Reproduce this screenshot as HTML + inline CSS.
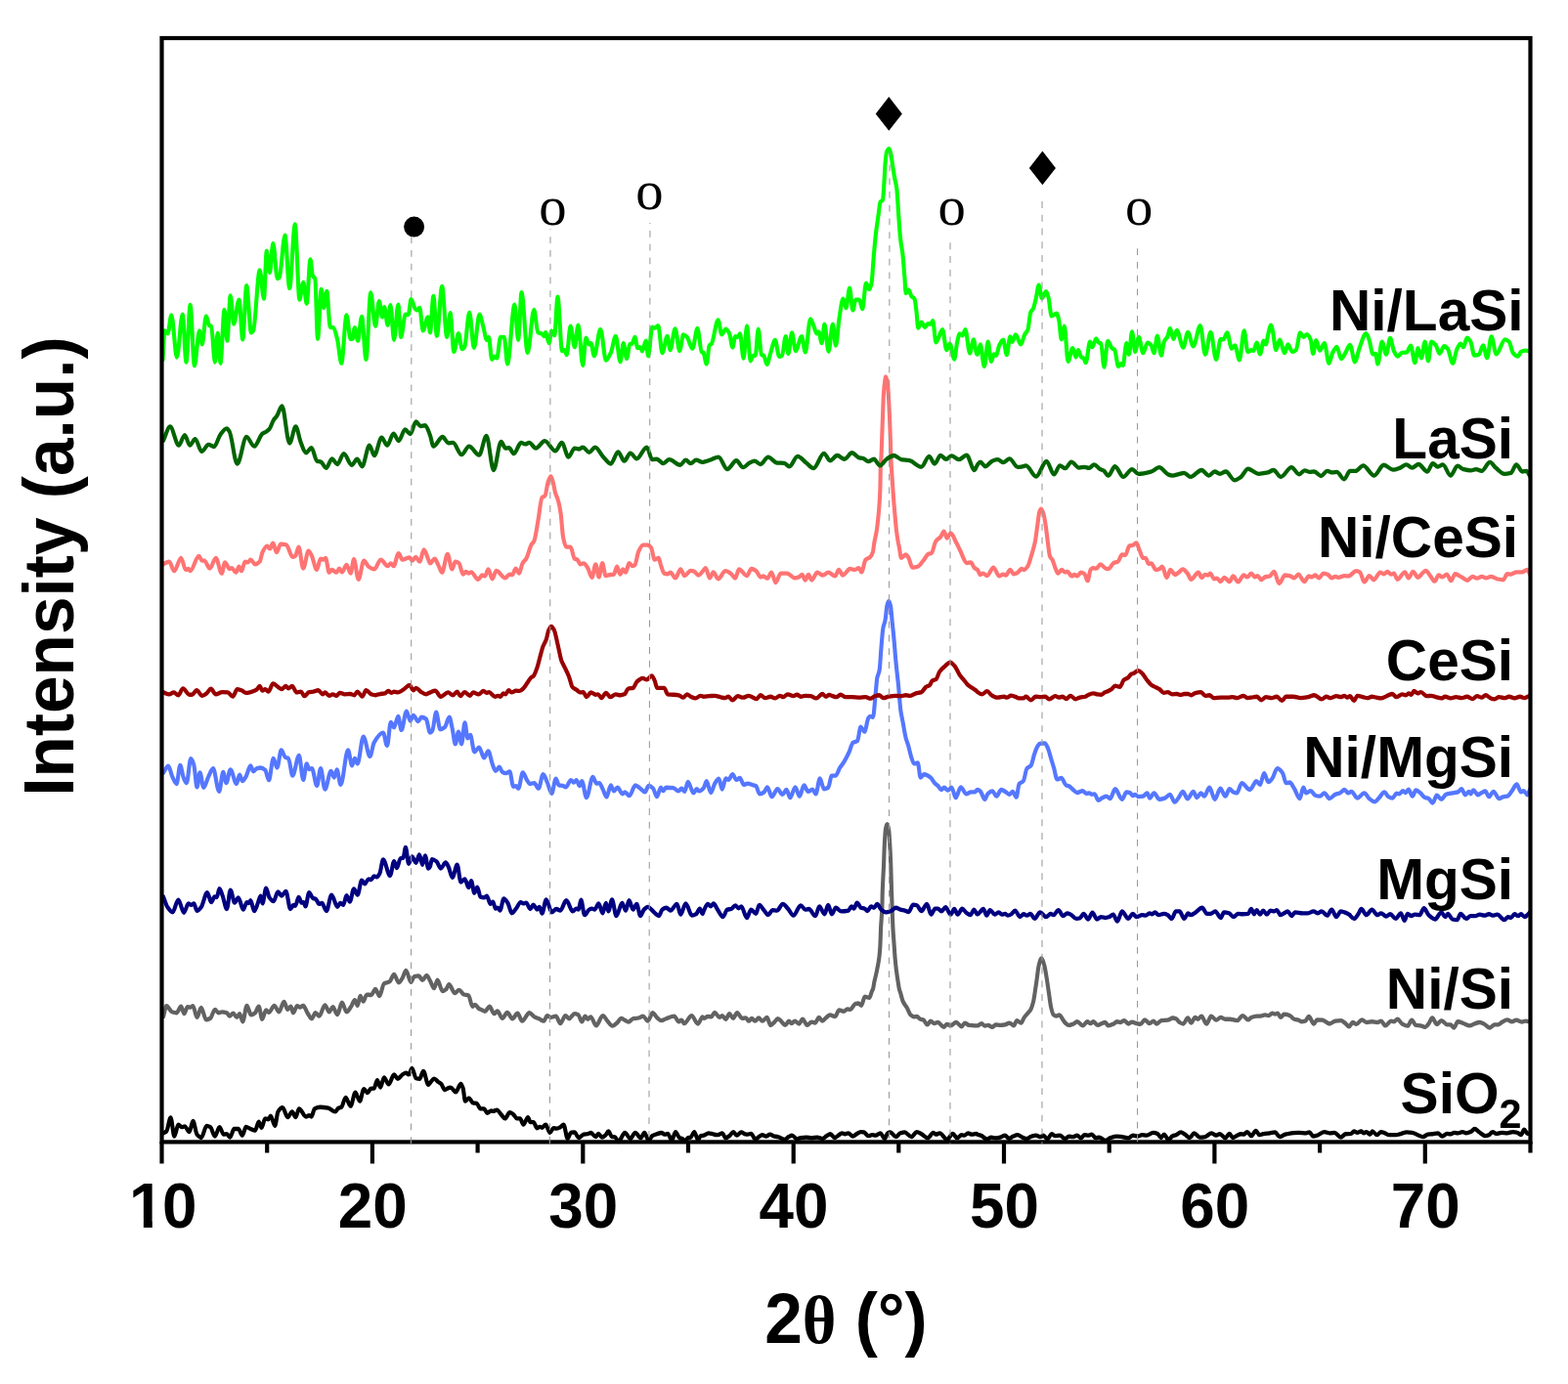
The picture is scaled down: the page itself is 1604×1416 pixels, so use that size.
<!DOCTYPE html>
<html lang="en"><head><meta charset="utf-8"><title>XRD patterns</title>
<style>
html,body{margin:0;padding:0;background:#fff;}
body{width:1604px;height:1416px;overflow:hidden;}
svg{display:block;}
.lab{font-family:"Liberation Sans",Arial,Helvetica,sans-serif;font-weight:700;fill:#000;}
.sym{font-family:"Liberation Serif","Times New Roman",serif;fill:#000;}
.crv{fill:none;stroke-linejoin:round;stroke-linecap:round;}
</style></head><body>
<svg xmlns="http://www.w3.org/2000/svg" width="1604" height="1416" viewBox="0 0 1604 1416">
<rect x="0" y="0" width="1604" height="1416" fill="#fff"/>
<g transform="scale(1,1.05)">
<path class="crv" d="M167.1,1104.1C168.2,1103.5 169.2,1103.3 170.3,1102.4C171.7,1101.0 173.2,1089.0 174.6,1089.0C175.8,1089.0 177.1,1107.2 178.3,1107.2C179.7,1107.2 181.1,1095.8 182.4,1095.8C183.7,1095.8 184.9,1098.3 186.2,1098.3C187.1,1098.3 188.1,1097.5 189.0,1097.5C190.5,1097.5 192.1,1102.9 193.7,1102.9C194.9,1102.9 196.2,1092.2 197.4,1092.2C198.8,1092.2 200.1,1103.7 201.5,1105.4C203.0,1107.1 204.4,1108.6 205.8,1108.6C207.7,1108.6 209.6,1097.0 211.4,1097.0C212.7,1097.0 213.9,1097.6 215.2,1098.3C216.7,1099.1 218.3,1107.2 219.9,1107.2C221.4,1107.2 223.0,1098.3 224.5,1098.3C226.0,1098.3 227.4,1105.4 228.8,1105.4C229.9,1105.4 230.9,1105.0 232.0,1105.0C233.1,1105.0 234.3,1108.1 235.4,1108.1C236.7,1108.1 238.1,1100.0 239.5,1100.0C240.9,1100.0 242.4,1100.0 243.8,1100.0C245.2,1100.0 246.5,1106.4 247.9,1106.4C249.2,1106.4 250.4,1097.9 251.6,1097.9C253.2,1097.9 254.8,1099.5 256.3,1100.0C257.9,1100.6 259.4,1101.5 261.0,1101.5C262.2,1101.5 263.5,1092.9 264.7,1092.9C265.7,1092.9 266.6,1098.8 267.5,1098.8C268.8,1098.8 270.0,1089.9 271.3,1089.9C272.3,1089.9 273.4,1090.8 274.5,1090.8C275.3,1090.8 276.1,1087.2 276.9,1087.2C278.3,1087.2 279.8,1097.0 281.2,1097.0C282.3,1097.0 283.3,1084.9 284.4,1083.3C285.9,1080.9 287.5,1079.2 289.1,1079.2C290.8,1079.2 292.5,1088.6 294.3,1088.6C295.8,1088.6 297.3,1083.3 298.8,1083.3C300.0,1083.3 301.3,1088.6 302.5,1088.6C303.6,1088.6 304.8,1080.4 305.9,1080.4C308.3,1080.4 310.6,1088.1 313.0,1088.1C314.1,1088.1 315.1,1086.9 316.2,1086.9C317.0,1086.9 317.8,1088.1 318.6,1088.1C319.7,1088.1 320.7,1081.0 321.8,1080.4C323.7,1079.4 325.5,1078.8 327.4,1078.8C330.2,1078.8 333.0,1079.2 335.8,1079.7C338.2,1080.2 340.5,1083.3 342.9,1083.3C344.0,1083.3 345.0,1080.2 346.1,1079.7C347.2,1079.3 348.2,1079.3 349.3,1078.8C350.7,1078.2 352.1,1069.4 353.6,1069.4C355.3,1069.4 356.9,1077.8 358.6,1077.8C360.2,1077.8 361.9,1064.4 363.5,1064.4C365.0,1064.4 366.5,1073.0 368.0,1073.0C369.4,1073.0 370.8,1061.0 372.3,1061.0C373.5,1061.0 374.8,1064.9 376.0,1064.9C377.1,1064.9 378.1,1061.1 379.2,1060.8C380.3,1060.6 381.4,1060.7 382.6,1060.5C383.7,1060.3 384.8,1052.5 385.9,1052.5C387.0,1052.5 388.1,1059.6 389.1,1059.6C390.4,1059.6 391.6,1049.8 392.9,1049.8C394.4,1049.8 396.0,1056.6 397.5,1056.6C399.4,1056.6 401.3,1047.1 403.1,1047.1C404.4,1047.1 405.6,1051.2 406.9,1051.2C408.4,1051.2 410.0,1048.1 411.6,1047.1C412.8,1046.4 414.1,1045.4 415.3,1045.4C416.2,1045.4 417.2,1047.1 418.1,1047.1C419.2,1047.1 420.3,1040.9 421.5,1040.9C422.8,1040.9 424.2,1050.3 425.6,1050.7C426.8,1051.0 428.1,1051.2 429.3,1051.2C430.6,1051.2 431.8,1043.6 433.1,1043.6C434.8,1043.6 436.4,1056.9 438.1,1056.9C438.7,1056.9 439.4,1055.8 440.0,1055.1C441.4,1053.8 442.7,1051.1 444.1,1051.1C445.5,1051.1 447.0,1053.3 448.4,1054.3C449.4,1054.9 450.3,1055.2 451.2,1056.0C452.5,1057.1 453.7,1061.9 455.0,1061.9C456.2,1061.9 457.5,1060.5 458.7,1060.1C459.5,1059.9 460.2,1059.6 460.9,1059.6C462.7,1059.6 464.4,1064.1 466.2,1064.1C467.9,1064.1 469.7,1056.0 471.4,1056.0C472.2,1056.0 472.9,1058.3 473.7,1060.5C474.4,1062.7 475.2,1073.0 475.9,1073.0C477.2,1073.0 478.4,1069.8 479.7,1069.8C481.1,1069.8 482.5,1074.5 484.0,1074.7C485.2,1075.0 486.4,1074.9 487.7,1075.1C488.9,1075.3 490.2,1080.4 491.4,1080.4C492.7,1080.4 493.9,1080.4 495.2,1080.4C496.2,1080.4 497.3,1084.5 498.4,1084.5C499.8,1084.5 501.2,1082.2 502.7,1082.2C503.3,1082.2 503.9,1082.8 504.5,1082.8C505.8,1082.8 507.0,1081.5 508.3,1081.5C509.8,1081.5 511.4,1084.8 512.9,1086.3C514.2,1087.6 515.4,1089.9 516.7,1089.9C518.2,1089.9 519.8,1084.0 521.4,1084.0C522.6,1084.0 523.9,1085.0 525.1,1085.8C526.3,1086.6 527.6,1089.9 528.8,1089.9C529.9,1089.9 531.0,1089.9 532.0,1089.9C533.1,1089.9 534.3,1095.8 535.4,1095.8C536.9,1095.8 538.5,1088.6 540.1,1088.6C540.9,1088.6 541.7,1093.4 542.5,1093.4C543.6,1093.4 544.6,1093.4 545.7,1093.4C546.9,1093.4 548.2,1099.3 549.4,1099.3C550.3,1099.3 551.3,1097.9 552.2,1097.9C553.0,1097.9 553.7,1098.8 554.5,1098.8C555.7,1098.8 557.0,1095.8 558.2,1095.8C559.6,1095.8 561.1,1103.6 562.5,1103.6C563.8,1103.6 565.0,1099.3 566.2,1099.3C567.2,1099.3 568.1,1099.7 569.1,1099.7C570.4,1099.7 571.8,1098.9 573.2,1098.3C574.3,1097.7 575.4,1095.8 576.5,1095.8C577.9,1095.8 579.3,1109.5 580.6,1109.5C581.8,1109.5 582.9,1103.8 584.0,1103.6C585.3,1103.4 586.5,1103.2 587.8,1103.2C589.1,1103.2 590.5,1108.6 591.9,1108.6C593.6,1108.6 595.4,1105.7 597.1,1105.4C598.4,1105.2 599.6,1105.2 600.8,1105.0C602.1,1104.8 603.3,1103.8 604.6,1103.8C606.1,1103.8 607.7,1107.7 609.3,1107.7C610.2,1107.7 611.1,1104.7 612.1,1104.7C613.3,1104.7 614.6,1108.2 615.8,1108.2C617.1,1108.2 618.3,1107.0 619.6,1105.9C620.5,1105.1 621.4,1102.4 622.4,1102.4C623.6,1102.4 624.9,1107.7 626.1,1107.7C627.0,1107.7 628.0,1107.7 628.9,1107.7C630.1,1107.7 631.4,1112.5 632.6,1112.5C634.8,1112.5 637.0,1103.6 639.2,1103.6C641.1,1103.6 642.9,1109.5 644.8,1109.5C646.5,1109.5 648.2,1103.6 649.9,1103.6C651.7,1103.6 653.6,1108.9 655.5,1108.9C656.7,1108.9 658.0,1103.6 659.2,1103.6C660.6,1103.6 662.1,1111.3 663.5,1111.3C664.8,1111.3 666.0,1107.5 667.2,1106.8C668.8,1105.9 670.4,1105.5 671.9,1105.0C673.5,1104.5 675.0,1103.8 676.6,1103.8C677.8,1103.8 679.1,1105.4 680.3,1105.4C681.3,1105.4 682.2,1104.7 683.1,1104.7C684.5,1104.7 685.9,1111.3 687.3,1111.3C688.5,1111.3 689.8,1102.9 691.0,1102.9C692.4,1102.9 693.9,1108.5 695.3,1108.9C696.2,1109.2 697.2,1109.2 698.1,1109.5C699.0,1109.8 700.0,1112.1 700.9,1112.1C701.8,1112.1 702.8,1108.8 703.7,1108.6C704.7,1108.4 705.6,1108.4 706.5,1108.2C707.8,1107.9 709.0,1102.9 710.3,1102.9C711.5,1102.9 712.8,1110.7 714.0,1110.7C714.9,1110.7 715.9,1107.0 716.8,1106.8C717.9,1106.6 718.9,1106.6 720.0,1106.4C721.6,1106.2 723.1,1104.1 724.7,1104.1C726.2,1104.1 727.8,1104.7 729.4,1105.0C730.6,1105.3 731.8,1105.9 733.1,1105.9C734.0,1105.9 735.0,1105.6 735.9,1105.4C736.8,1105.1 737.8,1104.1 738.7,1104.1C740.0,1104.1 741.2,1108.9 742.4,1108.9C743.7,1108.9 744.9,1107.7 746.2,1106.8C747.6,1105.8 748.9,1102.9 750.3,1102.9C751.4,1102.9 752.5,1106.4 753.7,1106.4C755.2,1106.4 756.8,1103.2 758.3,1103.2C759.6,1103.2 760.8,1104.8 762.1,1105.0C763.0,1105.2 764.0,1105.4 764.9,1105.4C766.0,1105.4 767.1,1104.7 768.3,1104.7C769.8,1104.7 771.2,1110.0 772.7,1110.0C774.2,1110.0 775.6,1107.9 777.0,1107.2C778.0,1106.7 778.9,1105.9 779.9,1105.9C781.1,1105.9 782.3,1107.2 783.6,1107.2C785.0,1107.2 786.3,1105.4 787.7,1105.4C789.1,1105.4 790.6,1106.9 792.0,1107.2C793.3,1107.4 794.5,1107.4 795.7,1107.7C797.9,1108.1 800.1,1110.4 802.3,1110.4C803.9,1110.4 805.4,1108.4 807.0,1107.7C808.0,1107.2 809.1,1106.4 810.1,1106.4C811.9,1106.4 813.6,1110.0 815.4,1110.0C816.6,1110.0 817.9,1108.7 819.1,1108.6C821.0,1108.4 822.9,1108.2 824.7,1108.2C826.6,1108.2 828.5,1108.9 830.3,1108.9C832.2,1108.9 834.1,1108.2 836.0,1108.2C837.8,1108.2 839.7,1109.5 841.6,1109.5C842.9,1109.5 844.3,1107.6 845.7,1106.8C846.9,1106.1 848.2,1105.0 849.4,1105.0C850.9,1105.0 852.3,1108.6 853.7,1108.6C855.0,1108.6 856.2,1107.2 857.5,1106.4C858.7,1105.7 860.0,1104.1 861.2,1104.1C862.3,1104.1 863.3,1105.0 864.4,1105.0C865.5,1105.0 866.6,1104.1 867.8,1104.1C869.3,1104.1 870.9,1107.2 872.4,1107.2C873.7,1107.2 874.9,1105.7 876.2,1105.0C877.6,1104.3 879.0,1102.9 880.5,1102.9C881.5,1102.9 882.6,1103.0 883.7,1103.2C885.2,1103.5 886.8,1106.8 888.3,1106.8C889.6,1106.8 890.8,1105.9 892.1,1105.9C893.3,1105.9 894.6,1106.4 895.8,1106.4C897.4,1106.4 898.9,1104.1 900.5,1104.1C902.0,1104.1 903.6,1109.5 905.2,1109.5C906.1,1109.5 907.0,1104.6 908.0,1104.1C908.9,1103.6 909.8,1103.2 910.8,1103.2C912.6,1103.2 914.5,1107.7 916.4,1107.7C917.9,1107.7 919.5,1104.6 921.1,1104.1C922.5,1103.7 923.9,1103.2 925.4,1103.2C927.7,1103.2 930.0,1107.7 932.3,1107.7C934.2,1107.7 936.0,1102.9 937.9,1102.9C939.5,1102.9 941.0,1104.2 942.6,1105.0C944.8,1106.1 946.9,1108.9 949.1,1108.9C951.0,1108.9 952.9,1103.6 954.7,1103.6C955.7,1103.6 956.6,1105.4 957.5,1105.4C958.8,1105.4 960.0,1104.1 961.3,1104.1C963.8,1104.1 966.3,1110.4 968.8,1110.4C970.7,1110.4 972.7,1104.7 974.7,1104.7C976.2,1104.7 977.6,1108.9 979.0,1108.9C980.6,1108.9 982.2,1105.9 983.7,1105.9C984.7,1105.9 985.6,1106.4 986.5,1106.4C987.8,1106.4 989.0,1104.1 990.3,1104.1C991.5,1104.1 992.8,1105.4 994.0,1105.4C995.6,1105.4 997.1,1104.7 998.7,1104.7C999.1,1104.7 999.6,1105.2 1000.0,1105.4C1001.2,1105.9 1002.5,1106.0 1003.7,1106.4C1005.6,1107.2 1007.5,1110.0 1009.4,1110.0C1010.9,1110.0 1012.5,1108.2 1014.0,1108.2C1015.6,1108.2 1017.1,1108.9 1018.7,1108.9C1020.3,1108.9 1021.8,1108.6 1023.4,1108.2C1024.9,1107.9 1026.5,1106.4 1028.1,1106.4C1029.4,1106.4 1030.8,1109.5 1032.2,1109.5C1033.6,1109.5 1035.0,1107.7 1036.5,1107.2C1038.0,1106.6 1039.6,1105.9 1041.1,1105.9C1042.7,1105.9 1044.3,1107.7 1045.8,1108.2C1047.4,1108.8 1048.9,1109.5 1050.5,1109.5C1052.1,1109.5 1053.6,1107.5 1055.2,1107.2C1056.7,1106.8 1058.3,1106.4 1059.9,1106.4C1061.4,1106.4 1063.0,1107.7 1064.5,1107.7C1065.5,1107.7 1066.4,1106.4 1067.3,1106.4C1068.7,1106.4 1070.1,1110.0 1071.4,1110.0C1072.9,1110.0 1074.3,1105.0 1075.7,1105.0C1077.0,1105.0 1078.2,1106.8 1079.5,1106.8C1081.0,1106.8 1082.6,1106.4 1084.2,1106.4C1085.9,1106.4 1087.7,1109.5 1089.4,1109.5C1090.8,1109.5 1092.1,1107.2 1093.5,1107.2C1094.8,1107.2 1096.0,1107.7 1097.3,1107.7C1098.8,1107.7 1100.4,1106.4 1101.9,1106.4C1103.2,1106.4 1104.4,1108.9 1105.7,1108.9C1106.9,1108.9 1108.2,1105.9 1109.4,1105.9C1110.7,1105.9 1111.9,1106.4 1113.2,1106.4C1114.4,1106.4 1115.6,1105.4 1116.9,1105.4C1118.1,1105.4 1119.4,1108.6 1120.6,1108.6C1121.9,1108.6 1123.1,1108.2 1124.4,1108.2C1126.6,1108.2 1128.7,1111.3 1130.9,1111.3C1132.5,1111.3 1134.0,1109.5 1135.6,1108.9C1137.8,1108.2 1140.0,1107.2 1142.1,1107.2C1144.0,1107.2 1145.9,1107.5 1147.8,1107.7C1149.9,1108.0 1152.1,1108.9 1154.3,1108.9C1155.9,1108.9 1157.4,1106.4 1159.0,1106.4C1160.5,1106.4 1162.1,1107.2 1163.7,1107.2C1165.2,1107.2 1166.8,1105.9 1168.3,1105.9C1169.9,1105.9 1171.4,1106.4 1173.0,1106.4C1175.2,1106.4 1177.4,1103.6 1179.6,1103.6C1181.1,1103.6 1182.7,1104.0 1184.2,1104.7C1185.3,1105.1 1186.5,1108.6 1187.6,1108.6C1188.7,1108.6 1189.7,1105.4 1190.8,1105.4C1192.3,1105.4 1193.9,1110.7 1195.4,1110.7C1196.7,1110.7 1197.9,1107.8 1199.2,1107.2C1200.4,1106.5 1201.7,1106.4 1202.9,1105.9C1204.6,1105.2 1206.3,1103.2 1208.0,1103.2C1209.4,1103.2 1210.8,1104.6 1212.3,1105.4C1213.8,1106.3 1215.4,1108.6 1217.0,1108.6C1218.5,1108.6 1220.1,1104.1 1221.6,1104.1C1223.5,1104.1 1225.4,1108.2 1227.2,1108.2C1229.1,1108.2 1231.0,1108.0 1232.9,1107.7C1235.0,1107.3 1237.2,1104.1 1239.4,1104.1C1241.0,1104.1 1242.5,1106.4 1244.1,1106.4C1245.3,1106.4 1246.6,1105.0 1247.8,1105.0C1249.7,1105.0 1251.6,1108.9 1253.4,1108.9C1254.9,1108.9 1256.3,1104.7 1257.7,1104.7C1258.8,1104.7 1259.9,1108.6 1260.9,1108.6C1262.5,1108.6 1264.0,1107.1 1265.6,1106.4C1266.8,1105.9 1268.1,1105.0 1269.3,1105.0C1270.3,1105.0 1271.2,1105.4 1272.1,1105.4C1273.4,1105.4 1274.6,1102.9 1275.9,1102.9C1277.2,1102.9 1278.6,1106.8 1280.0,1106.8C1281.6,1106.8 1283.1,1101.8 1284.7,1101.8C1285.9,1101.8 1287.2,1105.9 1288.4,1105.9C1290.0,1105.9 1291.5,1104.9 1293.1,1104.7C1295.0,1104.4 1296.8,1104.4 1298.7,1104.1C1300.6,1103.9 1302.4,1103.2 1304.3,1103.2C1305.9,1103.2 1307.4,1107.7 1309.0,1107.7C1310.9,1107.7 1312.7,1105.9 1314.6,1105.4C1316.8,1104.8 1319.0,1104.4 1321.1,1104.1C1323.6,1103.9 1326.1,1103.6 1328.6,1103.6C1331.1,1103.6 1333.6,1104.1 1336.1,1104.1C1337.2,1104.1 1338.4,1103.2 1339.5,1103.2C1340.7,1103.2 1342.0,1107.2 1343.2,1107.2C1344.9,1107.2 1346.6,1106.4 1348.3,1105.9C1350.4,1105.2 1352.6,1102.9 1354.8,1102.9C1356.7,1102.9 1358.6,1104.1 1360.4,1104.1C1362.0,1104.1 1363.5,1103.6 1365.1,1103.6C1367.3,1103.6 1369.5,1108.2 1371.6,1108.2C1373.2,1108.2 1374.8,1105.2 1376.3,1105.0C1378.2,1104.8 1380.1,1104.9 1381.9,1104.7C1383.0,1104.5 1384.1,1102.4 1385.1,1102.4C1386.2,1102.4 1387.4,1103.6 1388.5,1103.6C1389.7,1103.6 1391.0,1102.4 1392.2,1102.4C1393.2,1102.4 1394.1,1104.1 1395.0,1104.1C1396.0,1104.1 1396.9,1102.9 1397.8,1102.9C1399.1,1102.9 1400.3,1105.4 1401.6,1105.4C1402.3,1105.4 1403.1,1102.4 1403.8,1102.4C1405.4,1102.4 1407.1,1105.9 1408.7,1105.9C1410.0,1105.9 1411.4,1102.9 1412.8,1102.9C1414.0,1102.9 1415.3,1103.7 1416.5,1104.1C1418.1,1104.7 1419.7,1105.9 1421.2,1105.9C1423.4,1105.9 1425.6,1105.9 1427.8,1105.9C1429.6,1105.9 1431.5,1105.1 1433.4,1104.7C1435.2,1104.2 1437.1,1103.2 1439.0,1103.2C1440.8,1103.2 1442.7,1103.4 1444.6,1103.6C1446.1,1103.8 1447.7,1104.8 1449.3,1105.4C1451.4,1106.2 1453.6,1107.7 1455.8,1107.7C1457.4,1107.7 1458.9,1105.6 1460.5,1105.4C1462.0,1105.2 1463.6,1105.2 1465.2,1105.0C1467.0,1104.8 1468.9,1104.1 1470.8,1104.1C1472.3,1104.1 1473.9,1107.2 1475.4,1107.2C1477.0,1107.2 1478.6,1104.7 1480.1,1104.7C1481.4,1104.7 1482.6,1105.0 1483.9,1105.0C1485.1,1105.0 1486.4,1103.6 1487.6,1103.6C1488.9,1103.6 1490.1,1104.1 1491.3,1104.1C1492.9,1104.1 1494.5,1102.9 1496.0,1102.9C1497.3,1102.9 1498.5,1104.1 1499.8,1104.1C1501.3,1104.1 1502.9,1103.5 1504.4,1102.9C1505.8,1102.4 1507.2,1100.0 1508.6,1100.0C1510.0,1100.0 1511.4,1102.0 1512.9,1102.9C1515.0,1104.3 1517.2,1106.8 1519.4,1106.8C1520.6,1106.8 1521.9,1106.4 1523.1,1105.9C1524.4,1105.5 1525.6,1102.9 1526.9,1102.9C1528.1,1102.9 1529.4,1104.7 1530.6,1104.7C1532.5,1104.7 1534.4,1103.6 1536.2,1103.6C1538.1,1103.6 1540.0,1104.1 1541.8,1104.1C1543.7,1104.1 1545.6,1102.9 1547.5,1102.9C1549.0,1102.9 1550.6,1103.2 1552.1,1103.6C1553.4,1103.9 1554.6,1105.9 1555.9,1105.9C1557.0,1105.9 1558.1,1100.6 1559.2,1100.6C1560.3,1100.6 1561.4,1104.7 1562.4,1104.7C1563.3,1104.7 1564.2,1104.3 1565.0,1104.1" stroke="#000000" stroke-width="4.1"/>
<path class="crv" d="M167.1,990.5C168.2,987.0 169.2,980.1 170.3,980.1C172.2,980.1 174.0,985.4 175.9,986.0C177.5,986.5 179.0,986.9 180.6,986.9C182.1,986.9 183.7,980.7 185.2,980.7C186.3,980.7 187.4,987.8 188.4,987.8C189.6,987.8 190.7,981.2 191.8,981.2C192.7,981.2 193.7,981.6 194.6,981.6C195.5,981.6 196.5,980.1 197.4,980.1C198.8,980.1 200.1,991.4 201.5,991.4C203.0,991.4 204.4,981.9 205.8,981.9C207.5,981.9 209.2,993.7 210.9,993.7C212.3,993.7 213.7,993.0 215.2,992.3C216.7,991.4 218.3,983.7 219.9,983.7C221.1,983.7 222.3,986.9 223.6,986.9C224.8,986.9 226.1,986.0 227.3,986.0C228.9,986.0 230.4,986.4 232.0,986.9C232.9,987.2 233.9,990.1 234.8,990.1C236.1,990.1 237.3,987.3 238.6,987.3C239.8,987.3 241.0,991.4 242.3,991.4C243.2,991.4 244.2,987.8 245.1,987.8C246.2,987.8 247.2,995.5 248.3,995.5C249.7,995.5 251.1,979.8 252.6,979.8C254.0,979.8 255.4,989.0 256.9,989.0C258.3,989.0 259.6,988.0 261.0,986.9C262.2,985.9 263.5,980.7 264.7,980.7C265.9,980.7 267.0,993.1 268.1,993.1C269.5,993.1 270.8,984.2 272.2,984.2C273.2,984.2 274.1,986.6 275.0,986.6C276.9,986.6 278.8,979.8 280.6,979.8C282.2,979.8 283.8,986.0 285.3,986.0C287.1,986.0 288.8,976.2 290.5,976.2C291.8,976.2 293.0,983.7 294.3,983.7C295.3,983.7 296.4,980.7 297.5,980.7C298.3,980.7 299.1,986.9 299.9,986.9C301.3,986.9 302.6,980.1 304.0,980.1C305.0,980.1 305.9,981.6 306.8,981.6C307.9,981.6 309.1,979.8 310.2,979.8C311.6,979.8 312.9,984.6 314.3,986.6C315.9,988.8 317.4,992.6 319.0,992.6C320.2,992.6 321.5,986.9 322.7,986.9C324.0,986.9 325.2,990.1 326.5,990.1C328.5,990.1 330.4,979.4 332.4,979.4C333.9,979.4 335.3,986.0 336.7,986.0C338.0,986.0 339.2,981.2 340.5,981.2C342.0,981.2 343.6,988.7 345.2,988.7C346.7,988.7 348.3,976.8 349.8,976.8C351.4,976.8 353.0,986.0 354.5,986.0C356.1,986.0 357.6,982.8 359.2,980.7C360.4,979.0 361.7,974.4 362.9,974.4C363.9,974.4 364.8,979.8 365.7,979.8C366.7,979.8 367.6,970.5 368.5,970.5C369.6,970.5 370.7,975.9 371.7,975.9C372.8,975.9 374.0,969.1 375.1,969.1C376.6,969.1 378.2,969.5 379.8,969.5C381.2,969.5 382.6,963.8 384.1,963.8C385.4,963.8 386.8,970.5 388.2,970.5C389.7,970.5 391.3,959.3 392.9,958.4C394.7,957.3 396.6,957.6 398.5,956.6C400.0,955.8 401.6,949.5 403.1,949.5C404.7,949.5 406.3,957.5 407.8,957.5C409.1,957.5 410.3,954.9 411.6,953.1C412.8,951.2 414.1,945.6 415.3,945.6C417.0,945.6 418.7,957.0 420.3,957.0C421.5,957.0 422.6,952.0 423.7,951.6C425.3,951.2 426.8,950.9 428.4,950.9C429.6,950.9 430.9,955.2 432.1,955.2C433.6,955.2 435.0,950.4 436.4,950.4C437.6,950.4 438.8,953.8 440.0,955.7C441.4,957.9 442.7,962.9 444.1,962.9C445.2,962.9 446.4,954.8 447.5,954.8C449.2,954.8 451.0,965.9 452.7,965.9C454.0,965.9 455.2,964.8 456.5,963.8C457.4,962.9 458.3,959.3 459.3,959.3C461.3,959.3 463.3,967.7 465.2,967.7C466.7,967.7 468.1,964.6 469.6,964.6C471.2,964.6 472.9,968.6 474.6,969.1C476.2,969.6 477.7,969.4 479.3,970.0C480.6,970.5 482.0,980.7 483.4,980.7C484.2,980.7 485.0,978.9 485.8,978.9C487.3,978.9 488.7,982.2 490.1,983.0C491.2,983.6 492.2,983.8 493.3,984.2C494.2,984.6 495.2,985.5 496.1,985.5C497.7,985.5 499.2,980.7 500.8,980.7C502.3,980.7 503.9,987.8 505.5,987.8C506.6,987.8 507.7,985.1 508.8,985.1C510.5,985.1 512.2,992.3 513.9,992.3C515.6,992.3 517.2,986.6 518.9,986.6C520.7,986.6 522.4,992.6 524.2,992.6C525.9,992.6 527.7,987.3 529.4,987.3C531.0,987.3 532.5,994.9 534.1,994.9C536.6,994.9 539.1,986.9 541.6,986.9C543.2,986.9 544.9,990.0 546.6,990.8C548.2,991.6 549.7,992.0 551.3,992.6C553.0,993.3 554.7,994.9 556.3,994.9C557.5,994.9 558.6,989.6 559.7,989.6C560.9,989.6 562.2,991.4 563.4,991.4C565.2,991.4 566.9,990.1 568.7,990.1C570.2,990.1 571.7,997.2 573.2,997.2C574.9,997.2 576.7,989.6 578.4,989.6C579.7,989.6 580.9,992.6 582.1,992.6C584.0,992.6 585.9,987.8 587.8,987.8C589.0,987.8 590.2,988.2 591.5,988.7C592.7,989.2 594.0,995.5 595.2,995.5C596.4,995.5 597.5,990.1 598.6,990.1C599.5,990.1 600.3,993.1 601.2,993.1C602.2,993.1 603.2,990.8 604.2,990.8C606.1,990.8 608.0,999.4 609.8,999.4C612.1,999.4 614.4,989.6 616.7,989.6C618.3,989.6 619.9,993.3 621.4,994.9C623.1,996.7 624.8,999.7 626.5,999.7C628.2,999.7 630.0,997.6 631.7,996.2C633.0,995.1 634.2,992.3 635.4,992.3C636.7,992.3 637.9,993.4 639.2,994.0C640.4,994.6 641.7,995.8 642.9,995.8C644.5,995.8 646.0,993.0 647.6,992.6C649.5,992.2 651.3,992.3 653.2,991.9C654.8,991.6 656.3,990.1 657.9,990.1C659.5,990.1 661.0,994.9 662.6,994.9C664.3,994.9 666.1,986.9 667.8,986.9C669.2,986.9 670.5,990.2 671.9,991.4C673.5,992.6 675.0,994.4 676.6,994.4C678.2,994.4 679.7,993.1 681.3,992.6C684.1,991.7 686.9,990.1 689.7,990.1C691.2,990.1 692.8,995.5 694.4,995.5C695.3,995.5 696.2,994.0 697.2,994.0C698.1,994.0 699.0,997.2 700.0,997.2C702.5,997.2 705.0,989.6 707.5,989.6C709.6,989.6 711.8,997.6 714.0,997.6C715.6,997.6 717.1,990.8 718.7,990.8C719.1,990.8 719.6,992.3 720.0,992.3C721.4,992.3 722.7,990.5 724.1,990.5C725.2,990.5 726.4,990.8 727.5,990.8C728.7,990.8 730.0,986.6 731.2,986.6C732.8,986.6 734.3,991.4 735.9,991.4C736.8,991.4 737.8,989.6 738.7,989.6C740.0,989.6 741.2,993.1 742.4,993.1C743.7,993.1 744.9,987.8 746.2,987.8C747.4,987.8 748.7,992.3 749.9,992.3C751.3,992.3 752.7,986.9 754.0,986.9C755.8,986.9 757.5,992.3 759.3,992.3C760.5,992.3 761.8,991.9 763.0,991.9C764.0,991.9 764.9,994.9 765.8,994.9C766.9,994.9 767.9,992.3 769.0,992.3C770.1,992.3 771.2,994.9 772.4,994.9C773.6,994.9 774.9,991.9 776.1,991.9C777.4,991.9 778.6,994.9 779.9,994.9C781.4,994.9 783.0,991.4 784.5,991.4C785.8,991.4 787.0,999.0 788.3,999.0C789.5,999.0 790.8,997.2 792.0,996.2C793.3,995.1 794.5,992.6 795.7,992.6C797.0,992.6 798.2,994.4 799.5,995.5C800.7,996.5 802.0,999.0 803.2,999.0C804.5,999.0 805.7,994.9 807.0,994.9C807.9,994.9 808.8,997.2 809.8,997.2C810.9,997.2 812.0,994.9 813.1,994.9C814.5,994.9 815.9,997.6 817.3,997.6C818.5,997.6 819.8,993.1 821.0,993.1C822.6,993.1 824.1,999.0 825.7,999.0C827.2,999.0 828.8,995.8 830.3,995.8C831.5,995.8 832.6,996.7 833.7,996.7C835.1,996.7 836.5,991.4 837.8,991.4C839.0,991.4 840.1,994.9 841.2,994.9C842.6,994.9 843.9,992.3 845.3,991.4C846.6,990.5 847.8,989.0 849.1,989.0C850.8,989.0 852.5,990.5 854.3,990.5C855.7,990.5 857.0,984.2 858.4,984.2C860.0,984.2 861.5,985.5 863.1,985.5C864.3,985.5 865.6,983.3 866.8,983.3C867.8,983.3 868.7,983.7 869.6,983.7C871.5,983.7 873.4,978.4 875.2,978.0C876.2,977.8 877.1,977.6 878.0,977.6C879.1,977.6 880.2,979.8 881.2,979.8C882.3,979.8 883.5,971.2 884.6,971.2C886.1,971.2 887.7,972.3 889.3,972.3C890.2,972.3 891.1,967.5 892.1,965.5C892.4,964.9 892.7,964.6 893.0,963.8C893.4,962.7 893.9,959.2 894.3,957.1C895.2,952.8 896.2,949.8 897.1,945.3C897.8,941.8 898.6,938.9 899.3,933.4C899.7,930.7 900.0,927.3 900.4,921.5C900.6,917.9 900.9,908.2 901.1,903.7C901.5,896.0 901.9,894.9 902.3,885.9C902.5,882.2 902.6,872.0 902.8,867.4C903.2,856.9 903.6,852.0 904.0,843.7C904.3,836.1 904.6,825.7 905.0,819.9C905.3,815.0 905.6,809.8 905.9,808.1C906.4,805.1 907.0,802.9 907.5,802.9C908.0,802.9 908.6,805.2 909.1,808.1C909.4,809.9 909.8,815.0 910.1,819.9C910.5,825.8 910.9,833.8 911.3,843.7C911.5,849.9 911.8,860.0 912.0,867.4C912.3,873.9 912.5,880.1 912.7,885.9C912.9,892.2 913.2,899.4 913.4,903.7C913.8,911.7 914.3,915.7 914.7,921.5C915.0,925.6 915.3,930.1 915.6,933.4C916.0,938.2 916.5,942.0 916.9,945.3C917.5,950.0 918.1,953.6 918.7,957.1C919.1,959.5 919.5,962.2 919.9,963.8C920.3,965.3 920.7,966.1 921.1,967.3C922.0,970.2 922.9,974.3 923.9,976.2C925.1,978.7 926.4,979.5 927.6,981.6C928.9,983.6 930.1,987.6 931.3,988.7C932.6,989.8 933.8,990.8 935.1,990.8C936.0,990.8 937.0,990.5 937.9,990.5C939.1,990.5 940.4,992.8 941.6,993.1C942.6,993.4 943.5,993.4 944.4,993.7C945.8,994.1 947.2,998.5 948.6,998.5C949.7,998.5 950.8,994.9 951.9,994.9C953.2,994.9 954.4,997.2 955.7,997.2C956.9,997.2 958.2,996.2 959.4,996.2C961.4,996.2 963.4,1000.8 965.4,1000.8C966.5,1000.8 967.6,998.0 968.8,998.0C970.0,998.0 971.2,999.4 972.5,999.4C974.4,999.4 976.2,996.2 978.1,996.2C980.0,996.2 981.8,1000.3 983.7,1000.3C984.8,1000.3 986.0,996.7 987.1,996.7C988.5,996.7 989.8,998.9 991.2,999.0C993.1,999.2 994.9,999.4 996.8,999.4C997.9,999.4 998.9,999.4 1000.0,999.4C1001.4,999.4 1002.7,997.2 1004.1,997.2C1005.2,997.2 1006.4,999.7 1007.5,999.7C1008.6,999.7 1009.7,999.0 1010.8,999.0C1012.2,999.0 1013.6,1000.8 1015.0,1000.8C1016.2,1000.8 1017.5,998.5 1018.7,998.5C1020.3,998.5 1021.8,999.0 1023.4,999.0C1024.9,999.0 1026.5,998.8 1028.1,998.5C1029.6,998.2 1031.2,996.7 1032.7,996.7C1034.2,996.7 1035.6,999.4 1037.0,999.4C1038.1,999.4 1039.2,994.4 1040.2,994.4C1041.6,994.4 1043.1,996.7 1044.5,996.7C1045.6,996.7 1046.6,992.8 1047.7,991.4C1048.9,989.7 1050.2,988.7 1051.4,987.3C1052.5,986.0 1053.6,985.2 1054.6,983.3C1055.4,981.9 1056.2,979.4 1057.0,976.2C1057.7,973.8 1058.3,969.4 1058.9,965.5C1059.5,961.7 1060.2,957.2 1060.8,953.1C1061.4,948.9 1062.0,942.9 1062.7,940.6C1063.6,937.2 1064.5,933.8 1065.5,933.8C1066.4,933.8 1067.3,937.5 1068.3,940.6C1069.1,943.3 1069.9,948.5 1070.7,953.1C1071.4,957.3 1072.2,962.6 1072.9,967.3C1073.7,972.1 1074.4,978.6 1075.2,981.6C1076.0,984.8 1076.8,988.0 1077.6,988.7C1078.6,989.5 1079.5,990.1 1080.4,990.1C1081.5,990.1 1082.7,989.0 1083.8,989.0C1084.9,989.0 1085.9,991.8 1087.0,993.1C1087.9,994.3 1088.8,995.9 1089.8,996.7C1090.9,997.7 1092.0,999.0 1093.1,999.0C1094.8,999.0 1096.5,998.2 1098.2,997.6C1099.4,997.1 1100.7,995.5 1101.9,995.5C1103.8,995.5 1105.7,999.4 1107.5,999.4C1109.1,999.4 1110.7,995.5 1112.2,995.5C1113.3,995.5 1114.5,997.2 1115.6,997.2C1116.5,997.2 1117.3,995.5 1118.2,995.5C1119.8,995.5 1121.4,999.0 1123.1,999.0C1124.4,999.0 1125.8,997.7 1127.2,997.2C1128.3,996.8 1129.4,996.2 1130.5,996.2C1131.6,996.2 1132.7,999.4 1133.7,999.4C1135.6,999.4 1137.5,998.4 1139.3,997.6C1140.4,997.1 1141.5,995.5 1142.5,995.5C1143.8,995.5 1145.0,996.2 1146.3,996.2C1147.5,996.2 1148.8,994.4 1150.0,994.4C1151.4,994.4 1152.9,997.6 1154.3,997.6C1155.5,997.6 1156.8,995.8 1158.0,995.8C1159.6,995.8 1161.2,996.9 1162.7,997.2C1164.0,997.5 1165.2,998.0 1166.5,998.0C1168.0,998.0 1169.6,993.7 1171.1,993.7C1172.7,993.7 1174.3,997.2 1175.8,997.2C1177.2,997.2 1178.6,994.9 1179.9,994.9C1181.0,994.9 1182.2,997.6 1183.3,997.6C1184.9,997.6 1186.4,994.6 1188.0,994.4C1190.1,994.2 1192.3,994.2 1194.5,994.0C1196.3,993.9 1198.0,991.9 1199.8,991.9C1200.8,991.9 1201.9,992.2 1202.9,992.6C1204.2,993.1 1205.4,995.5 1206.7,996.2C1207.9,996.9 1209.2,997.6 1210.4,997.6C1212.0,997.6 1213.5,991.9 1215.1,991.9C1216.2,991.9 1217.3,996.7 1218.5,996.7C1219.8,996.7 1221.2,991.4 1222.6,991.4C1223.5,991.4 1224.4,993.1 1225.4,993.1C1226.6,993.1 1227.9,990.1 1229.1,990.1C1230.8,990.1 1232.5,997.6 1234.2,997.6C1235.8,997.6 1237.4,990.1 1239.0,990.1C1240.7,990.1 1242.4,994.0 1244.1,994.0C1245.6,994.0 1247.2,991.4 1248.8,991.4C1250.3,991.4 1251.9,993.1 1253.4,993.1C1255.0,993.1 1256.5,993.1 1258.1,993.1C1260.6,993.1 1263.1,994.4 1265.6,994.4C1267.5,994.4 1269.3,989.6 1271.2,989.6C1273.1,989.6 1274.9,993.7 1276.8,993.7C1277.9,993.7 1278.9,991.7 1280.0,991.4C1281.9,990.7 1283.7,990.1 1285.6,990.1C1286.9,990.1 1288.1,990.1 1289.4,990.1C1290.9,990.1 1292.5,989.0 1294.0,989.0C1295.3,989.0 1296.5,989.6 1297.8,989.6C1299.0,989.6 1300.3,987.3 1301.5,987.3C1302.4,987.3 1303.4,988.3 1304.3,988.3C1305.2,988.3 1306.2,987.3 1307.1,987.3C1308.1,987.3 1309.0,991.4 1309.9,991.4C1311.2,991.4 1312.4,988.3 1313.7,988.3C1315.5,988.3 1317.4,988.9 1319.3,989.6C1320.8,990.1 1322.4,992.8 1324.0,993.1C1325.2,993.4 1326.4,993.4 1327.7,993.7C1328.9,994.0 1330.2,995.5 1331.4,995.5C1332.7,995.5 1333.9,995.2 1335.2,994.9C1336.4,994.6 1337.7,990.5 1338.9,990.5C1340.6,990.5 1342.3,997.6 1344.0,997.6C1345.1,997.6 1346.2,993.7 1347.3,993.7C1349.2,993.7 1351.1,993.8 1352.9,994.0C1355.3,994.3 1357.7,997.6 1360.0,997.6C1362.0,997.6 1364.0,995.2 1366.0,994.9C1367.9,994.6 1369.8,994.4 1371.6,994.4C1373.2,994.4 1374.8,996.2 1376.3,997.2C1377.6,998.1 1378.8,1000.3 1380.1,1000.3C1381.3,1000.3 1382.6,996.2 1383.8,996.2C1385.0,996.2 1386.3,998.0 1387.5,998.0C1389.4,998.0 1391.3,993.7 1393.2,993.7C1394.7,993.7 1396.3,996.2 1397.8,996.2C1399.7,996.2 1401.6,995.5 1403.4,995.5C1405.3,995.5 1407.2,996.2 1409.1,996.2C1410.3,996.2 1411.5,994.9 1412.8,994.9C1414.2,994.9 1415.7,999.4 1417.1,999.4C1419.1,999.4 1421.1,994.9 1423.1,994.9C1424.0,994.9 1425.0,995.5 1425.9,995.5C1427.1,995.5 1428.4,993.1 1429.6,993.1C1431.2,993.1 1432.7,996.7 1434.3,997.6C1436.2,998.6 1438.0,999.7 1439.9,999.7C1441.3,999.7 1442.8,994.0 1444.2,994.0C1445.6,994.0 1447.0,998.8 1448.3,999.0C1449.9,999.2 1451.4,999.2 1453.0,999.4C1454.6,999.6 1456.1,1000.8 1457.7,1000.8C1458.9,1000.8 1460.2,999.0 1461.4,997.6C1462.7,996.2 1463.9,991.9 1465.2,991.9C1466.7,991.9 1468.3,998.0 1469.8,998.0C1471.4,998.0 1473.0,994.4 1474.5,994.4C1476.5,994.4 1478.5,998.5 1480.5,998.5C1481.6,998.5 1482.7,998.5 1483.9,998.5C1485.0,998.5 1486.1,1001.5 1487.2,1001.5C1488.6,1001.5 1490.0,995.5 1491.3,995.5C1493.2,995.5 1495.1,996.6 1497.0,997.2C1499.1,997.9 1501.3,999.4 1503.5,999.4C1505.1,999.4 1506.6,998.1 1508.2,997.6C1510.0,997.0 1511.9,996.2 1513.8,996.2C1515.3,996.2 1516.9,997.2 1518.5,998.0C1520.3,998.8 1522.2,1001.5 1524.1,1001.5C1525.6,1001.5 1527.2,998.5 1528.8,998.5C1530.0,998.5 1531.2,998.5 1532.5,998.5C1533.7,998.5 1535.0,996.8 1536.2,996.2C1538.1,995.2 1540.0,993.7 1541.8,993.7C1543.4,993.7 1545.0,995.5 1546.5,995.5C1548.1,995.5 1549.6,994.0 1551.2,994.0C1553.1,994.0 1554.9,995.8 1556.8,995.8C1558.1,995.8 1559.3,994.9 1560.5,994.9C1562.0,994.9 1563.5,995.3 1565.0,995.5" stroke="#626262" stroke-width="4.1"/>
<path class="crv" d="M167.1,873.8C168.5,877.1 169.9,881.6 171.2,883.6C173.0,886.1 174.7,888.9 176.5,888.9C178.5,888.9 180.4,876.8 182.4,876.8C184.3,876.8 186.2,889.3 188.1,889.3C189.6,889.3 191.2,880.4 192.7,880.4C193.7,880.4 194.6,881.8 195.5,881.8C196.5,881.8 197.4,880.4 198.3,880.4C199.4,880.4 200.5,887.5 201.5,887.5C203.0,887.5 204.4,885.7 205.8,884.0C207.9,881.5 209.9,869.7 212.0,869.7C213.4,869.7 214.7,879.1 216.1,879.1C217.2,879.1 218.4,873.8 219.5,873.8C220.2,873.8 221.0,874.3 221.7,874.3C222.7,874.3 223.6,865.8 224.5,865.8C225.6,865.8 226.6,870.2 227.7,872.9C229.1,876.6 230.6,885.7 232.0,885.7C233.3,885.7 234.5,867.2 235.7,867.2C237.2,867.2 238.6,879.7 240.0,879.7C241.3,879.7 242.5,874.7 243.8,874.7C245.5,874.7 247.2,886.3 248.8,886.3C250.1,886.3 251.3,879.1 252.6,879.1C253.2,879.1 253.8,880.0 254.5,880.0C255.1,880.0 255.7,877.4 256.3,877.4C257.6,877.4 258.8,887.7 260.1,887.7C261.3,887.7 262.6,882.9 263.8,880.0C264.7,877.9 265.7,872.9 266.6,872.9C267.2,872.9 267.9,880.4 268.5,880.4C269.7,880.4 271.0,865.4 272.2,865.4C273.3,865.4 274.5,873.2 275.6,874.7C277.0,876.5 278.3,878.3 279.7,878.3C281.3,878.3 282.8,869.0 284.4,869.0C285.6,869.0 286.9,872.9 288.1,872.9C289.6,872.9 291.0,868.5 292.4,868.5C294.0,868.5 295.5,885.7 297.1,885.7C298.2,885.7 299.2,881.8 300.3,881.8C300.9,881.8 301.5,882.7 302.1,882.7C303.3,882.7 304.4,874.3 305.5,874.3C306.6,874.3 307.6,879.7 308.7,879.7C309.3,879.7 309.9,879.1 310.6,879.1C311.2,879.1 311.8,883.2 312.4,883.2C313.7,883.2 314.9,869.7 316.2,869.7C317.4,869.7 318.7,874.4 319.9,875.0C321.0,875.6 322.0,875.5 323.1,876.1C324.2,876.7 325.3,880.9 326.5,880.9C327.4,880.9 328.3,880.0 329.3,880.0C330.8,880.0 332.4,887.7 333.9,887.7C335.7,887.7 337.4,872.0 339.2,872.0C341.2,872.0 343.2,883.6 345.2,883.6C346.1,883.6 347.0,880.0 348.0,880.0C349.0,880.0 350.1,881.8 351.1,881.8C352.3,881.8 353.4,872.6 354.5,872.6C355.6,872.6 356.8,878.6 357.9,878.6C359.3,878.6 360.6,866.1 362.0,866.1C363.2,866.1 364.5,872.0 365.7,872.0C367.2,872.0 368.6,857.8 370.0,857.8C371.1,857.8 372.2,861.3 373.2,861.3C374.5,861.3 375.7,856.5 377.0,856.5C377.9,856.5 378.8,857.2 379.8,857.2C380.7,857.2 381.6,853.7 382.6,853.7C383.5,853.7 384.4,854.7 385.4,854.7C386.4,854.7 387.5,852.7 388.6,850.6C389.7,848.5 390.8,837.6 391.9,837.6C394.3,837.6 396.7,853.3 399.0,853.3C400.4,853.3 401.8,839.1 403.1,839.1C404.1,839.1 405.0,845.8 405.9,845.8C407.2,845.8 408.4,836.8 409.7,836.4C410.6,836.1 411.6,836.2 412.5,835.9C413.3,835.6 414.1,825.7 414.9,825.7C416.0,825.7 417.0,841.7 418.1,841.7C419.2,841.7 420.3,834.6 421.5,834.6C422.8,834.6 424.2,840.8 425.6,840.8C426.7,840.8 427.8,832.8 429.0,832.8C430.0,832.8 431.1,842.6 432.1,842.6C433.1,842.6 434.0,833.7 434.9,833.7C436.0,833.7 437.1,846.2 438.1,846.2C438.7,846.2 439.4,845.4 440.0,844.4C440.6,843.5 441.2,837.3 441.9,837.3C443.4,837.3 445.0,838.3 446.5,839.4C448.0,840.4 449.4,846.2 450.8,846.2C452.5,846.2 454.2,840.5 455.9,840.5C456.8,840.5 457.8,842.7 458.7,844.4C460.1,846.9 461.4,855.1 462.8,855.1C464.4,855.1 466.1,842.6 467.7,842.6C468.9,842.6 470.2,859.5 471.4,859.5C472.8,859.5 474.2,856.5 475.5,856.5C476.8,856.5 478.0,864.9 479.3,864.9C480.2,864.9 481.1,858.3 482.1,858.3C483.1,858.3 484.2,870.2 485.3,870.2C486.3,870.2 487.3,864.4 488.3,864.4C489.3,864.4 490.4,873.3 491.4,873.8C492.7,874.4 493.9,874.7 495.2,874.7C496.1,874.7 497.0,872.9 498.0,872.9C499.2,872.9 500.5,880.9 501.7,880.9C502.5,880.9 503.3,878.6 504.2,878.6C505.1,878.6 506.0,885.4 507.0,885.4C507.7,885.4 508.5,884.5 509.2,884.5C510.0,884.5 510.7,887.2 511.4,887.2C512.8,887.2 514.1,875.6 515.4,875.6C516.7,875.6 518.1,878.0 519.5,880.0C520.9,882.1 522.2,889.8 523.6,889.8C525.0,889.8 526.5,887.0 527.9,885.4C529.5,883.6 531.0,879.1 532.6,879.1C533.5,879.1 534.5,880.4 535.4,880.4C536.3,880.4 537.3,879.7 538.2,879.7C539.6,879.7 541.1,885.7 542.5,885.7C543.6,885.7 544.6,881.5 545.7,881.5C546.9,881.5 548.2,886.3 549.4,886.3C550.2,886.3 551.0,883.6 551.8,883.6C552.7,883.6 553.6,890.2 554.5,890.2C555.9,890.2 557.3,876.5 558.8,876.5C560.6,876.5 562.5,888.9 564.4,888.9C565.9,888.9 567.5,885.7 569.1,885.7C570.4,885.7 571.8,887.2 573.2,887.2C575.2,887.2 577.3,877.4 579.3,877.4C581.5,877.4 583.7,888.0 585.9,888.0C587.1,888.0 588.4,885.4 589.6,885.4C590.4,885.4 591.1,886.3 591.9,886.3C592.7,886.3 593.5,876.8 594.3,876.8C595.5,876.8 596.8,891.6 598.0,891.6C599.6,891.6 601.2,887.0 602.7,886.3C603.7,885.8 604.6,885.4 605.5,885.4C606.5,885.4 607.4,886.3 608.3,886.3C609.7,886.3 611.1,880.4 612.4,880.4C613.8,880.4 615.1,889.8 616.4,889.8C617.6,889.8 618.7,880.0 619.9,880.0C620.7,880.0 621.5,888.0 622.4,888.0C623.6,888.0 624.9,876.5 626.1,876.5C627.5,876.5 629.0,892.5 630.4,892.5C632.4,892.5 634.4,880.0 636.4,880.0C637.6,880.0 638.9,887.2 640.1,887.2C641.2,887.2 642.4,877.4 643.5,877.4C644.9,877.4 646.2,886.3 647.6,886.3C648.9,886.3 650.1,880.9 651.3,880.9C652.6,880.9 653.8,892.5 655.1,892.5C656.3,892.5 657.6,887.5 658.8,886.3C660.1,885.0 661.3,883.6 662.6,883.6C664.8,883.6 666.9,887.2 669.1,888.9C670.7,890.2 672.2,892.5 673.8,892.5C675.0,892.5 676.3,887.1 677.5,886.3C678.9,885.3 680.3,884.5 681.6,884.5C683.1,884.5 684.5,887.2 685.9,887.2C688.1,887.2 690.3,880.9 692.5,880.9C693.7,880.9 695.0,891.1 696.2,891.1C698.0,891.1 699.7,880.4 701.5,880.4C703.6,880.4 705.7,892.1 707.8,892.1C709.3,892.1 710.7,891.5 712.1,890.7C713.4,890.0 714.6,885.4 715.9,885.4C716.8,885.4 717.7,890.4 718.7,890.4C719.1,890.4 719.6,888.0 720.0,887.2C721.4,884.5 722.7,880.9 724.1,880.9C725.1,880.9 726.1,883.2 727.1,883.2C728.0,883.2 729.0,880.4 729.9,880.4C731.3,880.4 732.7,884.4 734.0,886.3C735.9,888.8 737.8,893.4 739.6,893.4C741.1,893.4 742.5,886.6 743.9,886.3C745.3,885.9 746.7,886.0 748.1,885.7C749.4,885.4 750.8,882.2 752.2,882.2C753.3,882.2 754.4,885.0 755.5,885.0C756.5,885.0 757.4,883.2 758.3,883.2C760.2,883.2 762.1,894.3 764.0,894.3C765.4,894.3 766.8,886.3 768.3,886.3C769.9,886.3 771.6,890.4 773.3,890.4C774.4,890.4 775.5,881.8 776.7,881.8C778.4,881.8 780.0,885.4 781.7,887.2C783.1,888.6 784.5,891.6 785.8,891.6C787.3,891.6 788.7,886.8 790.1,886.8C791.7,886.8 793.3,887.2 794.8,887.2C796.8,887.2 798.8,880.9 800.8,880.9C802.5,880.9 804.3,883.6 806.0,885.4C807.9,887.2 809.8,892.1 811.6,892.1C814.1,892.1 816.6,882.2 819.1,882.2C820.7,882.2 822.2,886.3 823.8,886.3C825.0,886.3 826.3,885.7 827.5,885.7C829.7,885.7 831.9,892.5 834.1,892.5C835.5,892.5 836.8,883.2 838.2,883.2C840.0,883.2 841.7,890.7 843.4,890.7C844.7,890.7 845.9,881.8 847.2,881.8C848.4,881.8 849.7,890.7 850.9,890.7C852.3,890.7 853.7,884.5 855.0,884.5C856.8,884.5 858.5,888.0 860.3,888.0C862.8,888.0 865.3,887.8 867.8,887.2C868.9,886.9 870.0,883.2 871.1,883.2C871.9,883.2 872.6,885.4 873.4,885.4C874.5,885.4 875.6,879.7 876.7,879.7C878.1,879.7 879.5,883.9 880.8,884.5C882.1,885.0 883.3,884.9 884.6,885.4C885.5,885.7 886.5,887.7 887.4,887.7C888.6,887.7 889.9,883.2 891.1,883.2C892.1,883.2 893.0,884.5 893.9,884.5C895.1,884.5 896.2,880.9 897.3,880.9C898.7,880.9 900.0,885.2 901.4,886.3C903.0,887.5 904.5,888.9 906.1,888.9C908.0,888.9 909.8,888.2 911.7,887.5C913.3,886.9 914.8,884.5 916.4,884.5C917.9,884.5 919.5,885.9 921.1,886.3C922.6,886.7 924.2,886.8 925.7,887.2C927.0,887.5 928.2,888.6 929.5,888.6C931.0,888.6 932.6,881.5 934.2,881.5C935.4,881.5 936.6,881.8 937.9,882.2C939.5,882.7 941.0,887.7 942.6,887.7C944.4,887.7 946.3,880.9 948.2,880.9C949.6,880.9 951.0,891.1 952.5,891.1C953.9,891.1 955.2,885.4 956.6,885.4C957.5,885.4 958.5,885.4 959.4,885.4C960.6,885.4 961.9,888.0 963.1,888.0C964.5,888.0 965.9,884.0 967.3,884.0C969.0,884.0 970.7,891.1 972.5,891.1C973.7,891.1 975.0,885.7 976.2,885.7C977.4,885.7 978.5,891.1 979.6,891.1C981.2,891.1 982.7,885.4 984.3,885.4C985.6,885.4 987.0,888.4 988.4,889.3C989.8,890.3 991.3,891.6 992.7,891.6C993.9,891.6 995.2,886.3 996.4,886.3C997.5,886.3 998.6,890.7 999.6,890.7C999.7,890.7 999.9,890.7 1000.0,890.7C1002.0,890.7 1004.0,885.7 1006.0,885.7C1007.1,885.7 1008.2,892.1 1009.4,892.1C1010.5,892.1 1011.6,886.8 1012.7,886.8C1014.4,886.8 1016.1,891.1 1017.8,891.1C1019.0,891.1 1020.3,888.9 1021.5,888.9C1022.8,888.9 1024.0,891.1 1025.2,891.1C1026.2,891.1 1027.1,890.4 1028.1,890.4C1029.0,890.4 1029.9,892.1 1030.9,892.1C1032.1,892.1 1033.4,891.4 1034.6,890.7C1035.8,890.0 1037.1,887.2 1038.3,887.2C1040.0,887.2 1041.7,893.4 1043.4,893.4C1044.6,893.4 1045.9,890.7 1047.1,890.7C1048.3,890.7 1049.4,892.1 1050.5,892.1C1051.7,892.1 1053.0,890.4 1054.2,890.4C1055.6,890.4 1057.0,895.2 1058.4,895.2C1060.2,895.2 1062.1,888.9 1064.0,888.9C1066.0,888.9 1068.1,893.4 1070.1,893.4C1071.7,893.4 1073.3,890.4 1074.8,890.4C1075.7,890.4 1076.7,891.6 1077.6,891.6C1079.3,891.6 1081.0,886.8 1082.7,886.8C1084.3,886.8 1085.9,892.5 1087.5,892.5C1088.9,892.5 1090.3,889.8 1091.6,889.8C1092.9,889.8 1094.1,890.5 1095.4,891.1C1097.3,891.9 1099.1,895.2 1101.0,895.2C1102.2,895.2 1103.5,895.0 1104.7,894.6C1106.0,894.3 1107.2,890.4 1108.5,890.4C1110.0,890.4 1111.6,895.7 1113.2,895.7C1114.6,895.7 1116.0,889.3 1117.5,889.3C1119.0,889.3 1120.6,895.7 1122.1,895.7C1123.5,895.7 1124.9,893.4 1126.2,893.4C1127.8,893.4 1129.4,894.3 1130.9,894.3C1132.2,894.3 1133.4,893.8 1134.7,893.4C1136.0,892.9 1137.4,891.1 1138.8,891.1C1140.2,891.1 1141.6,897.8 1143.1,897.8C1144.6,897.8 1146.2,888.0 1147.8,888.0C1149.9,888.0 1152.1,895.2 1154.3,895.2C1155.7,895.2 1157.2,890.4 1158.6,890.4C1160.0,890.4 1161.3,893.4 1162.7,893.4C1164.6,893.4 1166.5,891.6 1168.3,891.6C1169.6,891.6 1170.8,892.1 1172.1,892.1C1173.3,892.1 1174.6,889.8 1175.8,889.8C1176.7,889.8 1177.7,890.7 1178.6,890.7C1179.6,890.7 1180.5,888.9 1181.4,888.9C1182.7,888.9 1183.9,891.6 1185.2,891.6C1187.0,891.6 1188.9,890.4 1190.8,890.4C1192.0,890.4 1193.3,891.0 1194.5,891.6C1195.9,892.3 1197.3,895.2 1198.6,895.2C1200.1,895.2 1201.5,888.0 1202.9,888.0C1204.2,888.0 1205.4,888.0 1206.7,888.0C1208.2,888.0 1209.8,895.2 1211.3,895.2C1212.7,895.2 1214.1,889.8 1215.5,889.8C1216.3,889.8 1217.1,891.6 1217.9,891.6C1219.5,891.6 1221.0,890.2 1222.6,889.3C1224.9,888.0 1227.3,884.5 1229.7,884.5C1231.4,884.5 1233.0,890.4 1234.7,890.4C1236.0,890.4 1237.2,890.4 1238.5,890.4C1240.0,890.4 1241.6,888.0 1243.1,888.0C1245.0,888.0 1246.9,894.3 1248.8,894.3C1249.9,894.3 1251.0,888.9 1252.1,888.9C1253.8,888.9 1255.5,889.3 1257.2,889.8C1258.7,890.3 1260.3,893.4 1261.8,893.4C1263.4,893.4 1265.0,890.4 1266.5,890.4C1268.1,890.4 1269.6,890.7 1271.2,890.7C1273.1,890.7 1274.9,890.6 1276.8,890.4C1277.9,890.2 1278.9,885.7 1280.0,885.7C1280.9,885.7 1281.9,890.7 1282.8,890.7C1283.7,890.7 1284.7,886.8 1285.6,886.8C1286.7,886.8 1287.9,891.1 1289.0,891.1C1290.0,891.1 1291.1,887.2 1292.2,887.2C1293.4,887.2 1294.7,891.1 1295.9,891.1C1297.1,891.1 1298.4,887.2 1299.6,887.2C1300.9,887.2 1302.1,888.0 1303.4,888.0C1304.3,888.0 1305.2,886.8 1306.2,886.8C1307.4,886.8 1308.7,891.6 1309.9,891.6C1311.5,891.6 1313.0,890.0 1314.6,889.3C1315.5,888.9 1316.5,888.0 1317.4,888.0C1318.7,888.0 1319.9,892.5 1321.1,892.5C1322.4,892.5 1323.6,888.9 1324.9,888.9C1327.4,888.9 1329.9,889.8 1332.4,889.8C1334.2,889.8 1336.1,889.8 1338.0,889.8C1339.9,889.8 1341.7,888.0 1343.6,888.0C1345.1,888.0 1346.7,889.8 1348.3,889.8C1349.5,889.8 1350.8,888.0 1352.0,888.0C1353.9,888.0 1355.7,892.1 1357.6,892.1C1359.2,892.1 1360.7,886.3 1362.3,886.3C1363.9,886.3 1365.4,893.4 1367.0,893.4C1368.5,893.4 1370.1,888.0 1371.6,888.0C1372.9,888.0 1374.1,888.6 1375.4,888.9C1376.9,889.4 1378.5,890.2 1380.1,891.1C1381.7,892.1 1383.4,895.2 1385.1,895.2C1386.5,895.2 1388.0,892.5 1389.4,890.7C1390.5,889.4 1391.5,885.7 1392.6,885.7C1394.3,885.7 1396.1,891.6 1397.8,891.6C1399.7,891.6 1401.6,886.3 1403.4,886.3C1405.3,886.3 1407.2,891.6 1409.1,891.6C1410.3,891.6 1411.5,889.8 1412.8,889.8C1414.5,889.8 1416.3,892.9 1418.0,892.9C1419.4,892.9 1420.8,890.7 1422.1,890.7C1424.0,890.7 1425.9,895.2 1427.8,895.2C1429.5,895.2 1431.2,889.8 1433.0,889.8C1434.2,889.8 1435.5,897.0 1436.7,897.0C1437.8,897.0 1438.9,890.4 1439.9,890.4C1441.2,890.4 1442.4,892.5 1443.7,892.5C1444.9,892.5 1446.1,891.1 1447.4,891.1C1449.0,891.1 1450.5,891.6 1452.1,891.6C1453.6,891.6 1455.2,885.0 1456.7,885.0C1458.3,885.0 1459.9,890.2 1461.4,891.6C1463.6,893.5 1465.8,895.7 1468.0,895.7C1470.1,895.7 1472.3,888.9 1474.5,888.9C1475.8,888.9 1477.0,893.4 1478.3,893.4C1479.2,893.4 1480.1,890.4 1481.1,890.4C1482.6,890.4 1484.2,895.3 1485.7,895.7C1487.3,896.1 1488.9,896.4 1490.4,896.4C1491.7,896.4 1492.9,890.4 1494.2,890.4C1496.0,890.4 1497.9,895.2 1499.8,895.2C1501.3,895.2 1502.9,892.5 1504.4,892.5C1506.0,892.5 1507.6,892.5 1509.1,892.5C1510.7,892.5 1512.2,891.1 1513.8,891.1C1515.3,891.1 1516.9,892.1 1518.5,892.1C1520.0,892.1 1521.6,890.7 1523.1,890.7C1524.4,890.7 1525.6,892.1 1526.9,892.1C1528.4,892.1 1530.0,891.1 1531.6,891.1C1534.1,891.1 1536.5,896.4 1539.0,896.4C1540.3,896.4 1541.5,893.4 1542.8,893.4C1543.7,893.4 1544.7,894.3 1545.6,894.3C1546.8,894.3 1548.1,890.7 1549.3,890.7C1550.6,890.7 1551.8,892.5 1553.1,892.5C1554.0,892.5 1554.9,890.7 1555.9,890.7C1557.1,890.7 1558.4,893.4 1559.6,893.4C1560.5,893.4 1561.5,892.3 1562.4,891.6C1563.3,890.9 1564.2,889.8 1565.0,888.9" stroke="#000080" stroke-width="4.1"/>
<path class="crv" d="M167.1,753.1C168.8,750.9 170.5,746.3 172.2,746.3C173.4,746.3 174.7,753.2 175.9,755.8C177.5,759.0 179.0,763.8 180.6,763.8C181.8,763.8 183.1,745.6 184.3,745.6C185.4,745.6 186.6,755.0 187.7,757.6C188.7,760.0 189.8,762.9 190.9,762.9C192.3,762.9 193.7,739.2 195.2,739.2C196.2,739.2 197.3,742.0 198.3,745.1C199.4,748.2 200.5,767.0 201.5,767.0C202.5,767.0 203.5,752.8 204.5,752.8C205.8,752.8 207.0,767.4 208.3,767.4C209.9,767.4 211.6,759.9 213.3,756.7C214.9,753.7 216.4,748.7 218.0,748.7C220.0,748.7 222.1,771.3 224.2,771.3C225.5,771.3 226.9,752.2 228.3,752.2C229.3,752.2 230.4,762.9 231.4,762.9C232.9,762.9 234.3,749.9 235.7,749.9C237.8,749.9 239.9,763.8 241.9,763.8C243.0,763.8 244.0,754.9 245.1,754.9C246.0,754.9 247.0,761.1 247.9,761.1C249.2,761.1 250.4,758.6 251.6,756.7C253.2,754.3 254.8,746.0 256.3,746.0C257.3,746.0 258.2,751.7 259.1,751.7C260.4,751.7 261.6,749.0 262.9,748.7C264.1,748.4 265.4,748.1 266.6,748.1C268.2,748.1 269.7,749.1 271.3,750.4C272.5,751.5 273.8,760.2 275.0,760.2C276.6,760.2 278.1,738.9 279.7,738.9C280.9,738.9 282.2,748.1 283.4,748.1C284.9,748.1 286.3,730.9 287.7,730.9C289.1,730.9 290.5,737.3 291.9,738.0C292.9,738.5 294.0,738.3 295.0,738.9C296.5,739.6 297.9,755.8 299.3,755.8C301.5,755.8 303.7,736.2 305.9,736.2C307.3,736.2 308.8,759.9 310.2,759.9C311.4,759.9 312.6,744.2 313.7,744.2C314.6,744.2 315.4,749.6 316.2,749.6C317.1,749.6 318.0,748.7 319.0,748.7C320.7,748.7 322.5,765.6 324.2,765.6C325.5,765.6 326.7,748.7 328.0,748.7C329.5,748.7 330.9,769.1 332.4,769.1C334.5,769.1 336.6,751.3 338.6,751.3C339.7,751.3 340.7,757.6 341.8,757.6C342.7,757.6 343.7,749.9 344.6,749.9C345.9,749.9 347.2,764.7 348.5,764.7C351.0,764.7 353.5,730.9 356.0,730.9C357.4,730.9 358.8,746.0 360.1,746.0C361.1,746.0 362.0,738.9 362.9,738.9C363.9,738.9 364.8,744.2 365.7,744.2C367.7,744.2 369.7,717.8 371.7,717.8C374.0,717.8 376.2,737.1 378.5,737.1C379.8,737.1 381.2,726.1 382.6,723.7C385.7,718.4 388.8,713.9 391.9,713.9C393.3,713.9 394.7,726.8 396.0,726.8C397.3,726.8 398.5,703.6 399.8,703.6C400.9,703.6 402.0,708.9 403.1,708.9C404.5,708.9 405.9,697.9 407.3,697.9C408.4,697.9 409.5,711.3 410.6,711.3C412.4,711.3 414.1,692.9 415.9,692.9C417.1,692.9 418.4,702.4 419.6,702.4C420.7,702.4 421.7,697.0 422.8,697.0C424.5,697.0 426.1,702.9 427.8,702.9C429.0,702.9 430.1,698.8 431.2,698.8C432.8,698.8 434.3,699.5 435.9,700.6C437.2,701.5 438.6,713.9 440.0,713.9C440.7,713.9 441.5,713.1 442.2,712.1C443.6,710.5 444.9,694.0 446.2,694.0C447.5,694.0 448.9,710.7 450.3,710.7C451.8,710.7 453.4,709.8 455.0,708.6C456.5,707.4 458.1,698.8 459.6,698.8C460.6,698.8 461.5,704.8 462.4,708.6C463.6,713.1 464.7,725.0 465.8,725.0C466.9,725.0 467.9,713.0 469.0,713.0C470.0,713.0 471.1,725.0 472.2,725.0C473.3,725.0 474.4,704.1 475.5,704.1C476.5,704.1 477.4,719.3 478.3,719.3C479.3,719.3 480.2,716.1 481.1,716.1C482.5,716.1 483.9,732.6 485.3,732.6C486.9,732.6 488.5,728.2 490.1,728.2C491.8,728.2 493.5,738.5 495.2,738.5C496.6,738.5 498.0,731.7 499.5,731.7C500.8,731.7 502.2,740.8 503.6,744.2C504.7,747.0 505.8,751.3 507.0,751.3C508.2,751.3 509.5,747.4 510.7,747.4C511.8,747.4 512.8,751.6 513.9,752.2C515.1,752.9 516.4,753.5 517.6,753.5C518.9,753.5 520.1,751.7 521.4,751.7C522.6,751.7 523.9,766.5 525.1,766.5C526.0,766.5 527.0,765.9 527.9,765.9C528.7,765.9 529.5,768.3 530.3,768.3C531.8,768.3 533.3,752.8 534.8,752.8C536.3,752.8 537.7,758.2 539.1,760.2C540.1,761.6 541.0,763.8 541.9,763.8C543.5,763.8 545.0,762.9 546.6,762.9C548.0,762.9 549.5,768.3 550.9,768.3C552.5,768.3 554.0,754.5 555.6,754.5C557.0,754.5 558.3,759.2 559.7,762.0C561.3,765.2 562.8,773.1 564.4,773.1C565.8,773.1 567.2,758.8 568.7,758.8C569.7,758.8 570.8,765.0 571.9,765.2C573.1,765.5 574.4,765.4 575.6,765.6C576.7,765.8 577.7,767.0 578.8,767.0C580.5,767.0 582.3,760.2 584.0,760.2C585.0,760.2 585.9,762.4 586.8,762.4C587.8,762.4 588.7,760.2 589.6,760.2C590.7,760.2 591.9,765.9 593.0,765.9C593.7,765.9 594.5,761.1 595.2,761.1C596.8,761.1 598.4,777.2 599.9,777.2C602.1,777.2 604.3,757.0 606.5,757.0C607.7,757.0 609.0,763.4 610.2,763.4C611.1,763.4 612.1,762.9 613.0,762.9C614.3,762.9 615.5,766.9 616.7,769.1C618.0,771.4 619.2,776.6 620.5,776.6C621.9,776.6 623.4,765.2 624.8,765.2C625.8,765.2 626.9,770.9 628.0,770.9C629.2,770.9 630.5,767.4 631.7,767.4C633.4,767.4 635.1,773.6 636.8,773.6C637.6,773.6 638.4,771.8 639.2,771.8C640.7,771.8 642.3,775.4 643.9,775.4C645.9,775.4 647.9,765.2 649.9,765.2C651.6,765.2 653.3,767.1 655.1,768.3C656.6,769.3 658.2,771.8 659.8,771.8C661.0,771.8 662.3,765.6 663.5,765.6C665.1,765.6 666.6,766.8 668.2,768.3C669.4,769.4 670.7,776.3 671.9,776.3C673.3,776.3 674.7,767.4 676.0,767.4C676.8,767.4 677.7,770.6 678.5,770.6C679.4,770.6 680.3,767.4 681.3,767.4C683.8,767.4 686.3,767.5 688.8,767.7C690.5,767.9 692.2,770.9 694.0,770.9C695.0,770.9 696.1,768.3 697.2,768.3C698.2,768.3 699.3,771.3 700.3,771.3C701.5,771.3 702.6,761.7 703.7,761.7C705.6,761.7 707.5,772.7 709.3,772.7C710.4,772.7 711.6,768.8 712.7,768.8C713.6,768.8 714.4,770.9 715.3,770.9C716.9,770.9 718.4,769.2 720.0,767.4C720.9,766.3 721.9,761.1 722.8,761.1C724.2,761.1 725.7,772.4 727.1,772.4C728.5,772.4 729.9,765.5 731.2,763.4C732.6,761.4 734.0,758.8 735.3,758.8C736.5,758.8 737.6,769.1 738.7,769.1C740.0,769.1 741.2,758.5 742.4,758.5C743.4,758.5 744.3,759.9 745.2,759.9C746.6,759.9 748.0,754.5 749.4,754.5C750.7,754.5 752.0,759.9 753.3,759.9C754.5,759.9 755.7,758.1 756.8,758.1C758.2,758.1 759.5,764.7 760.8,764.7C762.1,764.7 763.5,763.4 764.9,763.4C766.4,763.4 768.0,764.2 769.6,764.7C770.8,765.1 772.1,765.2 773.3,765.9C774.6,766.7 775.8,773.6 777.0,773.6C778.6,773.6 780.2,772.8 781.7,771.8C782.8,771.1 783.8,767.0 784.9,767.0C786.5,767.0 788.0,776.3 789.6,776.3C791.5,776.3 793.4,768.8 795.4,768.8C797.1,768.8 798.7,774.1 800.4,774.1C801.8,774.1 803.2,769.5 804.5,769.5C805.8,769.5 807.0,777.2 808.3,777.2C810.0,777.2 811.8,767.0 813.5,767.0C815.0,767.0 816.4,775.9 817.8,775.9C819.4,775.9 820.9,765.2 822.5,765.2C823.9,765.2 825.2,771.3 826.6,771.3C828.2,771.3 829.7,769.1 831.3,769.1C832.3,769.1 833.4,773.6 834.5,773.6C835.9,773.6 837.3,758.5 838.8,758.5C840.1,758.5 841.5,768.8 842.9,768.8C844.3,768.8 845.7,768.2 847.2,767.4C848.4,766.6 849.7,755.8 850.9,755.8C852.2,755.8 853.4,755.8 854.7,755.8C856.2,755.8 857.8,750.1 859.3,747.8C860.6,745.9 861.8,744.7 863.1,742.8C865.0,739.9 866.8,736.5 868.7,732.6C869.9,730.0 871.2,724.6 872.4,723.7C874.0,722.7 875.5,723.1 877.1,721.9C878.2,721.1 879.4,708.2 880.5,708.2C881.7,708.2 883.0,713.0 884.2,713.0C885.6,713.0 887.0,701.9 888.3,699.7C888.8,698.9 889.3,697.9 889.8,697.9C890.9,697.9 891.9,698.8 893.0,698.8C893.9,698.8 894.9,683.2 895.8,674.7C896.3,670.2 896.8,662.9 897.3,660.5C898.1,656.8 898.8,657.1 899.6,653.4C900.2,650.2 900.8,638.8 901.4,632.0C902.0,625.2 902.7,615.8 903.3,612.4C904.0,608.4 904.8,608.1 905.5,604.4C906.2,601.3 906.8,592.2 907.4,590.0C908.0,587.8 908.6,585.7 909.2,585.7C909.8,585.7 910.4,588.1 911.1,590.7C911.6,593.1 912.2,601.5 912.8,607.1C913.5,612.9 914.1,618.4 914.7,624.9C915.3,631.3 915.9,640.0 916.6,646.2C917.4,654.3 918.2,659.9 919.0,667.6C919.8,675.3 920.6,687.0 921.4,692.6C922.1,697.2 922.8,699.7 923.5,703.2C924.6,708.7 925.6,715.4 926.7,719.3C927.5,722.2 928.3,723.8 929.1,726.4C930.2,729.8 931.2,735.1 932.3,738.0C933.2,740.5 934.2,744.2 935.1,744.2C936.3,744.2 937.6,743.3 938.8,743.3C939.8,743.3 940.7,757.6 941.6,757.6C942.9,757.6 944.1,754.5 945.4,754.5C947.6,754.5 949.7,756.0 951.9,757.6C953.3,758.5 954.7,761.6 956.0,762.9C957.2,764.0 958.3,764.5 959.4,765.6C960.5,766.6 961.6,769.5 962.8,769.5C963.8,769.5 964.9,767.4 965.9,767.4C967.2,767.4 968.4,770.0 969.7,770.0C970.9,770.0 972.2,767.4 973.4,767.4C974.9,767.4 976.3,777.2 977.7,777.2C979.4,777.2 981.1,767.0 982.8,767.0C984.7,767.0 986.5,773.6 988.4,773.6C990.0,773.6 991.5,771.8 993.1,771.8C994.3,771.8 995.6,771.8 996.8,771.8C997.9,771.8 998.9,769.5 1000.0,769.5C1000.9,769.5 1001.9,770.2 1002.8,770.9C1004.4,772.1 1005.9,778.9 1007.5,778.9C1008.4,778.9 1009.4,774.4 1010.3,773.6C1012.0,772.1 1013.7,770.9 1015.3,770.9C1016.6,770.9 1018.0,775.9 1019.3,775.9C1020.9,775.9 1022.6,769.5 1024.3,769.5C1025.9,769.5 1027.4,771.0 1029.0,771.8C1030.2,772.5 1031.5,774.1 1032.7,774.1C1033.8,774.1 1034.9,771.3 1035.9,771.3C1037.2,771.3 1038.4,776.8 1039.7,776.8C1040.6,776.8 1041.6,765.0 1042.6,763.8C1044.0,762.2 1045.4,762.6 1046.8,761.1C1048.0,759.8 1049.3,750.0 1050.5,748.7C1051.9,747.2 1053.2,747.5 1054.6,746.0C1055.7,744.8 1056.9,738.5 1058.0,735.3C1058.9,732.7 1059.9,729.8 1060.8,728.2C1061.7,726.6 1062.7,724.8 1063.6,724.6C1065.3,724.3 1067.1,724.1 1068.8,724.1C1069.9,724.1 1070.9,726.8 1072.0,729.1C1072.9,731.0 1073.9,735.0 1074.8,738.0C1075.9,741.5 1077.1,745.0 1078.2,748.7C1079.2,752.1 1080.3,759.4 1081.4,759.4C1082.8,759.4 1084.2,758.1 1085.7,758.1C1087.3,758.1 1089.0,764.6 1090.7,765.2C1091.6,765.6 1092.6,765.6 1093.5,765.9C1094.8,766.4 1096.0,768.2 1097.3,769.1C1098.8,770.3 1100.4,772.4 1101.9,772.4C1103.8,772.4 1105.7,770.6 1107.5,770.6C1108.8,770.6 1110.0,773.1 1111.3,773.1C1112.2,773.1 1113.2,772.7 1114.1,772.7C1115.0,772.7 1116.0,774.1 1116.9,774.1C1117.8,774.1 1118.8,773.6 1119.7,773.6C1120.9,773.6 1122.2,779.8 1123.4,779.8C1125.0,779.8 1126.6,777.8 1128.1,777.2C1129.4,776.6 1130.6,775.9 1131.9,775.9C1133.1,775.9 1134.4,778.1 1135.6,778.1C1137.3,778.1 1139.1,768.8 1140.8,768.8C1143.1,768.8 1145.4,778.9 1147.8,778.9C1149.3,778.9 1150.9,771.8 1152.4,771.8C1153.7,771.8 1154.9,772.2 1156.2,772.7C1157.1,773.1 1158.0,775.4 1159.0,775.4C1159.7,775.4 1160.5,774.1 1161.2,774.1C1162.3,774.1 1163.5,776.3 1164.6,776.3C1166.1,776.3 1167.7,776.1 1169.3,775.9C1170.7,775.7 1172.1,772.7 1173.6,772.7C1174.4,772.7 1175.3,777.7 1176.2,777.7C1177.6,777.7 1179.1,772.7 1180.5,772.7C1182.4,772.7 1184.2,778.9 1186.1,778.9C1188.0,778.9 1189.8,778.3 1191.7,777.7C1193.4,777.1 1195.1,774.1 1196.8,774.1C1198.4,774.1 1200.0,781.6 1201.6,781.6C1203.0,781.6 1204.4,778.8 1205.7,777.2C1207.2,775.4 1208.6,771.3 1210.0,771.3C1211.6,771.3 1213.2,778.4 1214.7,778.4C1216.7,778.4 1218.7,771.3 1220.7,771.3C1221.9,771.3 1223.2,777.2 1224.4,777.2C1225.8,777.2 1227.2,772.7 1228.6,772.7C1229.7,772.7 1230.8,775.9 1231.9,775.9C1233.7,775.9 1235.4,767.4 1237.2,767.4C1239.0,767.4 1240.9,778.9 1242.8,778.9C1244.6,778.9 1246.5,768.3 1248.4,768.3C1250.1,768.3 1251.7,775.9 1253.4,775.9C1254.9,775.9 1256.3,768.8 1257.7,768.8C1259.1,768.8 1260.5,771.3 1261.8,771.8C1263.0,772.3 1264.1,772.7 1265.2,772.7C1266.9,772.7 1268.6,762.9 1270.3,762.9C1272.9,762.9 1275.6,769.5 1278.3,769.5C1278.9,769.5 1279.4,768.8 1280.0,768.3C1281.7,766.7 1283.5,761.1 1285.2,761.1C1286.5,761.1 1287.7,764.7 1289.0,764.7C1290.3,764.7 1291.7,753.5 1293.1,753.5C1294.5,753.5 1296.0,762.0 1297.4,762.0C1298.8,762.0 1300.1,760.1 1301.5,758.5C1303.2,756.5 1304.9,748.7 1306.6,748.7C1308.4,748.7 1310.3,750.9 1312.2,753.5C1313.3,755.0 1314.4,762.9 1315.5,762.9C1316.8,762.9 1318.0,762.4 1319.3,762.4C1320.8,762.4 1322.4,766.0 1324.0,768.3C1325.8,771.0 1327.7,778.1 1329.6,778.1C1330.8,778.1 1332.1,767.4 1333.3,767.4C1334.2,767.4 1335.2,772.7 1336.1,772.7C1337.7,772.7 1339.2,770.6 1340.8,770.6C1342.3,770.6 1343.9,774.5 1345.5,775.0C1347.0,775.5 1348.6,775.9 1350.1,775.9C1351.7,775.9 1353.3,772.7 1354.8,772.7C1356.6,772.7 1358.3,778.1 1360.0,778.1C1362.0,778.1 1364.0,775.0 1366.0,774.1C1367.6,773.5 1369.2,773.4 1370.7,772.7C1372.3,772.1 1373.8,769.5 1375.4,769.5C1376.6,769.5 1377.9,772.7 1379.1,772.7C1380.2,772.7 1381.4,771.3 1382.5,771.3C1384.5,771.3 1386.5,777.7 1388.5,777.7C1390.8,777.7 1393.2,772.7 1395.6,772.7C1397.3,772.7 1399.0,776.8 1400.6,778.1C1402.5,779.5 1404.4,781.3 1406.2,781.3C1407.8,781.3 1409.4,778.6 1410.9,777.2C1412.7,775.5 1414.4,771.8 1416.2,771.8C1417.5,771.8 1418.9,775.6 1420.3,776.3C1421.6,777.0 1423.0,777.7 1424.4,777.7C1425.8,777.7 1427.3,773.1 1428.7,773.1C1429.6,773.1 1430.6,773.6 1431.5,773.6C1432.7,773.6 1434.0,770.6 1435.2,770.6C1436.2,770.6 1437.1,772.4 1438.0,772.4C1439.0,772.4 1439.9,769.1 1440.8,769.1C1442.2,769.1 1443.6,775.9 1445.0,775.9C1446.1,775.9 1447.2,770.0 1448.3,770.0C1449.9,770.0 1451.4,771.6 1453.0,772.7C1454.6,773.8 1456.1,776.6 1457.7,777.2C1458.9,777.6 1460.2,777.6 1461.4,778.1C1462.8,778.6 1464.2,782.5 1465.5,782.5C1467.0,782.5 1468.4,775.0 1469.8,775.0C1471.4,775.0 1473.0,778.9 1474.5,778.9C1476.1,778.9 1477.6,774.7 1479.2,774.1C1481.4,773.3 1483.6,773.1 1485.7,772.7C1487.6,772.4 1489.5,772.3 1491.3,771.8C1492.6,771.5 1493.8,768.8 1495.1,768.8C1496.3,768.8 1497.6,774.5 1498.8,774.5C1500.1,774.5 1501.3,771.3 1502.6,771.3C1503.2,771.3 1503.8,773.6 1504.4,773.6C1505.4,773.6 1506.3,770.0 1507.2,770.0C1508.8,770.0 1510.4,774.5 1511.9,774.5C1513.2,774.5 1514.4,772.9 1515.7,772.4C1516.9,771.8 1518.2,770.9 1519.4,770.9C1520.6,770.9 1521.9,776.3 1523.1,776.3C1524.7,776.3 1526.3,771.3 1527.8,771.3C1529.7,771.3 1531.6,778.1 1533.4,778.1C1535.0,778.1 1536.5,776.5 1538.1,776.3C1539.4,776.1 1540.6,776.1 1541.8,775.9C1543.4,775.7 1545.0,772.8 1546.5,770.9C1548.2,768.9 1549.9,764.2 1551.6,764.2C1553.0,764.2 1554.4,771.8 1555.9,771.8C1556.8,771.8 1557.7,770.6 1558.7,770.6C1559.9,770.6 1561.2,774.5 1562.4,774.5C1563.3,774.5 1564.2,771.2 1565.0,769.5" stroke="#5577ff" stroke-width="4.1"/>
<path class="crv" d="M167.1,674.7C169.1,675.3 171.1,676.5 173.1,676.5C174.7,676.5 176.2,674.7 177.8,674.7C179.3,674.7 180.9,677.4 182.4,677.4C184.0,677.4 185.6,670.8 187.1,670.8C189.3,670.8 191.5,676.9 193.7,676.9C194.6,676.9 195.5,676.9 196.5,676.9C198.0,676.9 199.6,672.6 201.1,672.6C203.0,672.6 204.9,677.9 206.8,677.9C208.3,677.9 209.9,676.7 211.4,675.6C212.9,674.7 214.3,671.2 215.7,671.2C217.4,671.2 219.1,676.5 220.8,676.5C223.0,676.5 225.1,674.4 227.3,674.4C229.2,674.4 231.1,674.5 232.9,674.7C234.7,674.9 236.4,678.7 238.2,678.7C239.7,678.7 241.2,671.5 242.7,671.5C244.1,671.5 245.5,672.1 247.0,672.6C248.5,673.1 250.1,675.1 251.6,675.1C253.2,675.1 254.8,674.7 256.3,674.4C258.4,673.9 260.4,673.3 262.5,672.1C263.6,671.4 264.6,668.5 265.7,668.5C266.6,668.5 267.5,673.0 268.5,673.0C269.4,673.0 270.3,671.5 271.3,671.5C272.3,671.5 273.4,673.9 274.5,673.9C276.1,673.9 277.7,666.2 279.3,666.2C281.0,666.2 282.7,668.4 284.4,669.4C285.6,670.1 286.9,671.5 288.1,671.5C289.6,671.5 291.0,668.5 292.4,668.5C293.3,668.5 294.2,670.8 295.0,670.8C296.3,670.8 297.5,668.5 298.8,668.5C300.4,668.5 302.0,674.7 303.6,674.7C305.0,674.7 306.4,673.9 307.8,673.9C309.0,673.9 310.2,678.3 311.5,678.3C313.1,678.3 314.6,674.7 316.2,674.4C317.6,674.1 319.0,674.1 320.5,673.9C322.2,673.6 323.8,672.6 325.5,672.6C327.1,672.6 328.6,676.5 330.2,676.5C330.9,676.5 331.7,674.7 332.4,674.7C333.9,674.7 335.3,677.9 336.7,677.9C338.0,677.9 339.2,676.5 340.5,676.5C341.7,676.5 343.0,677.9 344.2,677.9C345.3,677.9 346.5,675.1 347.6,675.1C349.3,675.1 351.0,676.5 352.6,676.5C354.5,676.5 356.4,676.2 358.3,676.2C359.6,676.2 361.0,677.4 362.4,677.4C363.5,677.4 364.6,673.9 365.7,673.9C367.3,673.9 368.9,678.7 370.4,678.7C371.8,678.7 373.2,672.6 374.5,672.6C376.3,672.6 378.0,676.0 379.8,676.5C381.3,677.0 382.9,677.4 384.4,677.4C385.8,677.4 387.2,676.4 388.6,676.2C390.3,675.9 392.0,676.0 393.8,675.6C394.9,675.4 396.0,673.3 397.2,673.3C398.2,673.3 399.3,675.1 400.3,675.1C401.3,675.1 402.2,673.9 403.1,673.9C404.4,673.9 405.6,674.7 406.9,674.7C408.8,674.7 410.6,673.1 412.5,672.1C414.7,670.9 416.9,667.6 419.0,667.6C420.3,667.6 421.5,672.6 422.8,672.6C423.7,672.6 424.7,670.3 425.6,670.3C427.1,670.3 428.7,672.9 430.3,673.9C432.1,675.0 434.0,676.5 435.9,676.5C437.2,676.5 438.6,675.3 440.0,674.7C441.7,674.1 443.5,673.0 445.2,673.0C447.1,673.0 449.0,678.8 450.8,678.8C453.3,678.8 455.8,674.7 458.3,674.7C460.0,674.7 461.7,677.4 463.4,677.4C464.8,677.4 466.2,673.9 467.7,673.9C468.7,673.9 469.8,678.3 470.9,678.3C472.3,678.3 473.7,674.4 475.2,674.4C477.0,674.4 478.9,677.9 480.8,677.9C481.8,677.9 482.9,674.7 484.0,674.7C485.8,674.7 487.7,676.5 489.6,676.5C491.2,676.5 492.9,673.3 494.6,673.3C495.6,673.3 496.6,675.1 497.6,675.1C498.5,675.1 499.4,674.4 500.2,674.4C502.3,674.4 504.3,678.8 506.4,678.8C507.5,678.8 508.5,677.9 509.6,677.9C510.4,677.9 511.2,678.8 512.0,678.8C512.9,678.8 513.9,675.6 514.8,675.6C515.6,675.6 516.3,676.5 517.1,676.5C518.2,676.5 519.3,672.6 520.4,672.6C521.4,672.6 522.3,674.7 523.2,674.7C524.8,674.7 526.3,673.0 527.9,673.0C529.2,673.0 530.4,673.3 531.6,673.3C533.0,673.3 534.4,671.6 535.8,670.3C536.9,669.2 538.0,667.4 539.1,665.8C540.4,664.1 541.6,661.6 542.9,660.5C543.8,659.7 544.7,659.6 545.7,658.7C546.9,657.5 548.2,654.0 549.4,650.7C550.3,648.2 551.3,644.2 552.2,640.9C553.2,637.6 554.1,633.6 555.0,631.1C556.3,627.8 557.5,626.5 558.8,623.1C559.6,620.9 560.4,615.8 561.2,614.2C562.1,612.3 563.1,610.3 564.0,610.3C564.9,610.3 565.9,612.1 566.8,613.8C567.7,615.5 568.6,619.7 569.4,623.1C570.2,626.3 571.0,630.4 571.9,633.8C572.7,637.2 573.5,641.4 574.3,643.6C575.7,647.3 577.0,648.8 578.4,651.6C579.7,654.1 580.9,656.5 582.1,659.6C583.3,662.4 584.4,668.2 585.5,669.4C586.9,670.9 588.3,671.1 589.6,672.1C590.9,672.9 592.1,674.7 593.4,674.7C594.5,674.7 595.6,674.4 596.7,674.4C597.8,674.4 598.9,679.2 599.9,679.2C601.5,679.2 603.0,674.7 604.6,674.7C606.1,674.7 607.7,676.9 609.3,676.9C610.1,676.9 610.9,676.5 611.7,676.5C612.9,676.5 614.2,680.1 615.4,680.1C616.9,680.1 618.4,675.1 619.9,675.1C621.4,675.1 622.8,679.2 624.2,679.2C626.1,679.2 628.0,676.5 629.8,676.5C631.4,676.5 633.0,677.4 634.5,677.4C636.1,677.4 637.6,676.9 639.2,676.2C640.2,675.7 641.3,671.5 642.4,671.2C644.1,670.6 645.9,670.8 647.6,670.3C649.0,669.9 650.3,665.2 651.7,664.1C653.6,662.5 655.5,660.8 657.3,660.8C658.8,660.8 660.2,662.3 661.6,662.3C663.3,662.3 665.0,658.4 666.7,658.4C667.7,658.4 668.7,661.1 669.7,663.2C670.5,664.9 671.4,670.3 672.3,670.3C674.7,670.3 677.0,670.3 679.4,670.3C680.6,670.3 681.9,676.4 683.1,676.5C685.0,676.8 686.9,676.7 688.8,676.9C690.6,677.0 692.5,677.1 694.4,677.4C695.9,677.7 697.5,679.7 699.0,679.7C700.3,679.7 701.5,676.5 702.8,676.5C704.0,676.5 705.3,678.1 706.5,678.7C708.2,679.4 709.9,680.4 711.6,680.4C713.2,680.4 714.8,677.9 716.4,677.9C717.6,677.9 718.8,678.8 720.0,678.8C721.9,678.8 723.7,678.4 725.6,678.3C727.5,678.2 729.4,677.9 731.2,677.9C733.1,677.9 735.0,678.8 736.8,679.2C738.4,679.5 740.0,680.1 741.5,680.1C742.8,680.1 744.0,678.8 745.2,678.8C746.6,678.8 748.0,682.2 749.4,682.2C751.1,682.2 752.9,678.3 754.6,678.3C756.5,678.3 758.3,679.7 760.2,679.7C762.1,679.7 764.0,677.9 765.8,677.9C768.5,677.9 771.2,681.0 773.9,681.0C775.2,681.0 776.6,677.4 778.0,677.4C779.5,677.4 781.1,680.1 782.7,680.1C784.5,680.1 786.4,678.8 788.3,678.8C789.8,678.8 791.4,680.4 792.9,680.4C794.5,680.4 796.1,677.9 797.6,677.9C798.9,677.9 800.1,679.2 801.4,679.2C802.8,679.2 804.2,676.5 805.7,676.5C807.7,676.5 809.7,678.3 811.6,678.3C812.9,678.3 814.1,676.9 815.4,676.9C816.6,676.9 817.9,678.8 819.1,678.8C820.7,678.8 822.2,677.9 823.8,677.9C825.7,677.9 827.5,678.1 829.4,678.3C831.3,678.5 833.2,680.4 835.0,680.4C837.1,680.4 839.1,676.2 841.2,676.2C842.4,676.2 843.7,678.8 844.9,678.8C846.0,678.8 847.1,677.1 848.1,677.1C849.4,677.1 850.6,678.0 851.9,678.3C853.1,678.7 854.4,679.2 855.6,679.2C857.0,679.2 858.5,676.9 859.9,676.9C861.6,676.9 863.3,679.2 865.0,679.2C867.1,679.2 869.3,679.2 871.5,679.2C874.0,679.2 876.5,679.7 879.0,679.7C881.2,679.7 883.3,679.2 885.5,679.2C887.2,679.2 888.9,680.6 890.6,680.6C892.0,680.6 893.4,678.7 894.9,678.3C896.3,677.9 897.7,677.4 899.2,677.4C900.7,677.4 902.2,680.1 903.7,680.1C905.4,680.1 907.2,679.1 908.9,678.8C911.1,678.5 913.3,677.9 915.4,677.9C917.3,677.9 919.2,678.3 921.1,678.3C922.9,678.3 924.8,677.4 926.7,677.4C928.2,677.4 929.8,677.9 931.3,677.9C933.2,677.9 935.1,676.2 937.0,675.6C938.8,675.1 940.7,675.1 942.6,674.4C944.1,673.8 945.7,670.4 947.2,669.4C948.5,668.6 949.7,668.6 951.0,667.6C951.9,666.9 952.9,663.7 953.8,663.2C955.0,662.5 956.3,662.6 957.5,661.9C958.8,661.2 960.0,655.9 961.3,654.3C963.1,651.8 965.0,650.4 966.9,648.9C968.6,647.6 970.2,645.4 971.9,645.4C973.7,645.4 975.4,647.8 977.2,649.8C978.7,651.6 980.3,655.7 981.8,657.8C983.4,660.0 985.0,661.3 986.5,663.2C987.8,664.6 989.0,666.6 990.3,667.6C992.1,669.2 994.0,669.9 995.9,671.2C997.1,672.0 998.4,672.6 999.6,673.9C999.7,674.0 999.9,674.3 1000.0,674.4C1001.6,675.6 1003.1,676.5 1004.7,676.5C1006.4,676.5 1008.0,673.5 1009.7,673.5C1011.5,673.5 1013.2,677.1 1015.0,677.9C1016.8,678.8 1018.7,679.7 1020.6,679.7C1022.8,679.7 1024.9,678.8 1027.1,678.8C1028.1,678.8 1029.0,679.7 1029.9,679.7C1031.3,679.7 1032.7,677.8 1034.0,677.8C1035.8,677.8 1037.5,678.7 1039.3,679.2C1040.5,679.6 1041.8,680.4 1043.0,680.4C1044.3,680.4 1045.5,680.4 1046.8,680.4C1047.7,680.4 1048.6,678.8 1049.6,678.8C1051.2,678.8 1052.9,682.2 1054.6,682.2C1056.2,682.2 1057.9,678.8 1059.5,678.8C1061.2,678.8 1062.8,679.2 1064.5,679.2C1066.1,679.2 1067.6,678.8 1069.2,678.8C1070.6,678.8 1072.1,681.3 1073.5,681.3C1075.5,681.3 1077.5,678.3 1079.5,678.3C1080.7,678.3 1082.0,679.6 1083.2,679.6C1084.5,679.6 1085.7,678.8 1087.0,678.8C1088.2,678.8 1089.5,681.0 1090.7,681.0C1092.1,681.0 1093.6,677.9 1095.0,677.9C1096.7,677.9 1098.4,681.3 1100.1,681.3C1101.6,681.3 1103.2,679.9 1104.7,679.6C1106.6,679.2 1108.5,679.3 1110.3,678.8C1111.3,678.6 1112.2,677.4 1113.2,677.1C1115.0,676.3 1116.9,675.6 1118.8,675.6C1120.0,675.6 1121.3,676.4 1122.5,676.5C1123.9,676.7 1125.4,676.9 1126.8,676.9C1127.9,676.9 1128.9,675.3 1130.0,674.7C1131.2,674.1 1132.5,673.9 1133.7,673.3C1135.0,672.7 1136.2,672.1 1137.5,671.2C1138.5,670.4 1139.6,668.2 1140.6,668.2C1142.3,668.2 1143.9,669.4 1145.5,669.4C1146.9,669.4 1148.3,663.7 1149.6,662.6C1151.0,661.5 1152.4,661.5 1153.7,660.5C1154.9,659.7 1156.0,657.5 1157.1,656.9C1158.0,656.5 1159.0,656.4 1159.9,656.0C1161.3,655.4 1162.8,653.4 1164.2,653.4C1165.6,653.4 1167.0,654.8 1168.3,656.0C1169.9,657.4 1171.4,660.4 1173.0,662.3C1174.6,664.1 1176.1,666.2 1177.7,667.3C1179.2,668.4 1180.8,669.0 1182.4,669.8C1183.6,670.4 1184.9,670.8 1186.1,671.5C1187.5,672.4 1189.0,675.1 1190.4,675.1C1191.8,675.1 1193.1,674.4 1194.5,674.4C1196.1,674.4 1197.6,676.5 1199.2,676.5C1200.7,676.5 1202.3,676.2 1203.9,676.2C1205.1,676.2 1206.4,677.1 1207.6,677.1C1208.9,677.1 1210.1,676.3 1211.3,676.2C1212.6,676.1 1213.8,676.0 1215.1,676.0C1216.2,676.0 1217.3,677.4 1218.5,677.4C1219.8,677.4 1221.2,675.6 1222.6,675.3C1224.6,674.8 1226.6,674.4 1228.6,674.4C1230.0,674.4 1231.4,677.9 1232.9,677.9C1234.3,677.9 1235.7,677.4 1237.2,677.4C1238.7,677.4 1240.1,680.1 1241.6,680.1C1244.0,680.1 1246.4,679.7 1248.8,679.7C1251.2,679.7 1253.7,679.7 1256.2,679.7C1257.8,679.7 1259.4,679.2 1260.9,679.2C1262.5,679.2 1264.0,680.1 1265.6,680.1C1267.8,680.1 1270.0,677.9 1272.1,677.9C1273.4,677.9 1274.6,680.1 1275.9,680.1C1277.2,680.1 1278.6,679.9 1280.0,679.7C1281.9,679.5 1283.7,678.8 1285.6,678.8C1287.2,678.8 1288.7,682.2 1290.3,682.2C1291.8,682.2 1293.4,679.2 1295.0,679.2C1296.8,679.2 1298.7,680.1 1300.6,680.1C1302.4,680.1 1304.3,678.8 1306.2,678.8C1307.9,678.8 1309.7,682.8 1311.4,682.8C1312.8,682.8 1314.2,678.8 1315.5,678.8C1318.0,678.8 1320.5,678.8 1323.0,678.8C1325.5,678.8 1328.0,680.1 1330.5,680.1C1333.0,680.1 1335.5,679.6 1338.0,679.2C1340.2,678.8 1342.3,677.4 1344.5,677.4C1347.0,677.4 1349.5,681.3 1352.0,681.3C1353.6,681.3 1355.1,678.8 1356.7,678.8C1358.2,678.8 1359.8,680.1 1361.4,680.1C1363.2,680.1 1365.1,678.3 1367.0,678.3C1368.5,678.3 1370.1,679.2 1371.6,679.2C1372.9,679.2 1374.1,677.9 1375.4,677.9C1376.3,677.9 1377.3,679.7 1378.2,679.7C1379.1,679.7 1380.1,678.3 1381.0,678.3C1382.4,678.3 1383.7,682.8 1385.1,682.8C1386.2,682.8 1387.4,677.9 1388.5,677.9C1390.3,677.9 1392.2,678.8 1394.1,679.2C1395.6,679.5 1397.2,680.1 1398.8,680.1C1400.3,680.1 1401.9,678.8 1403.4,678.8C1405.0,678.8 1406.6,679.5 1408.1,679.7C1409.7,680.0 1411.2,680.4 1412.8,680.4C1414.7,680.4 1416.5,679.0 1418.4,678.3C1420.3,677.6 1422.1,676.2 1424.0,676.2C1425.6,676.2 1427.1,679.2 1428.7,679.2C1430.6,679.2 1432.4,676.5 1434.3,676.5C1435.5,676.5 1436.8,677.4 1438.0,677.4C1439.1,677.4 1440.2,675.6 1441.2,675.6C1442.0,675.6 1442.8,676.9 1443.7,676.9C1444.6,676.9 1445.5,673.3 1446.5,673.3C1447.7,673.3 1449.0,675.6 1450.2,675.6C1451.3,675.6 1452.4,674.4 1453.6,674.4C1455.6,674.4 1457.6,678.3 1459.6,678.3C1461.1,678.3 1462.7,677.9 1464.2,677.9C1465.8,677.9 1467.3,678.8 1468.9,679.2C1470.8,679.6 1472.6,680.4 1474.5,680.4C1475.8,680.4 1477.0,678.8 1478.3,678.8C1480.1,678.8 1482.0,680.4 1483.9,680.4C1485.7,680.4 1487.6,679.2 1489.5,679.2C1491.3,679.2 1493.2,680.1 1495.1,680.1C1497.0,680.1 1498.8,678.8 1500.7,678.8C1502.6,678.8 1504.4,681.0 1506.3,681.0C1507.9,681.0 1509.4,678.3 1511.0,678.3C1512.5,678.3 1514.1,679.6 1515.7,679.6C1517.0,679.6 1518.4,677.4 1519.8,677.4C1521.5,677.4 1523.3,679.9 1525.0,680.4C1526.3,680.9 1527.5,681.3 1528.8,681.3C1530.3,681.3 1531.9,679.2 1533.4,679.2C1535.3,679.2 1537.2,680.1 1539.0,680.1C1540.6,680.1 1542.2,678.8 1543.7,678.8C1545.6,678.8 1547.5,680.4 1549.3,680.4C1551.2,680.4 1553.1,678.8 1554.9,678.8C1556.5,678.8 1558.1,680.1 1559.6,680.1C1561.4,680.1 1563.2,678.5 1565.0,677.8" stroke="#990000" stroke-width="4.1"/>
<path class="crv" d="M166.5,549.8C167.5,549.4 168.4,549.0 169.4,548.6C170.6,548.1 171.8,547.2 173.1,547.2C174.8,547.2 176.5,556.4 178.1,556.4C180.5,556.4 182.9,543.6 185.2,543.6C186.8,543.6 188.4,555.2 189.9,555.2C190.9,555.2 191.8,554.3 192.7,554.3C193.4,554.3 194.0,556.4 194.6,556.4C197.5,556.4 200.5,541.8 203.4,541.8C204.5,541.8 205.6,546.3 206.8,546.3C207.5,546.3 208.3,546.3 209.0,546.3C210.9,546.3 212.7,553.9 214.6,553.9C216.7,553.9 218.7,543.6 220.8,543.6C222.8,543.6 224.8,558.7 226.8,558.7C227.9,558.7 229.0,548.0 230.1,548.0C231.7,548.0 233.3,554.3 234.8,554.3C235.6,554.3 236.3,553.4 237.1,553.4C238.5,553.4 239.9,557.8 241.4,557.8C242.4,557.8 243.5,552.1 244.5,552.1C245.3,552.1 246.2,556.4 247.0,556.4C248.2,556.4 249.5,547.2 250.7,547.2C251.6,547.2 252.6,548.0 253.5,548.0C254.5,548.0 255.4,545.4 256.3,545.4C257.9,545.4 259.4,549.8 261.0,549.8C262.6,549.8 264.1,548.8 265.7,547.2C266.6,546.2 267.5,540.1 268.5,538.2C270.0,535.2 271.6,532.0 273.2,532.0C274.1,532.0 275.0,534.7 276.0,534.7C277.1,534.7 278.2,529.3 279.3,529.3C280.5,529.3 281.7,538.2 282.9,538.2C284.3,538.2 285.7,530.2 287.2,530.2C289.1,530.2 290.9,530.4 292.8,530.8C295.0,531.2 297.2,542.7 299.3,542.7C300.3,542.7 301.2,542.3 302.1,541.8C303.3,541.2 304.4,532.9 305.5,532.9C307.1,532.9 308.6,553.9 310.2,553.9C312.0,553.9 313.8,536.8 315.6,536.8C316.7,536.8 317.9,539.7 319.0,541.8C320.7,545.0 322.3,555.2 324.0,555.2C325.3,555.2 326.6,544.5 328.0,544.5C328.7,544.5 329.5,545.4 330.2,545.4C331.1,545.4 332.1,543.6 333.0,543.6C334.3,543.6 335.5,557.8 336.7,557.8C337.7,557.8 338.6,555.2 339.6,555.2C341.1,555.2 342.7,557.8 344.2,557.8C345.2,557.8 346.1,553.9 347.0,553.9C348.0,553.9 348.9,557.5 349.8,557.5C351.4,557.5 353.0,550.4 354.5,550.4C355.9,550.4 357.3,558.7 358.6,558.7C359.8,558.7 360.9,545.0 362.0,545.0C363.6,545.0 365.1,564.6 366.7,564.6C368.5,564.6 370.4,546.3 372.3,546.3C373.8,546.3 375.4,551.1 377.0,552.1C379.0,553.4 380.9,554.6 382.9,554.6C385.1,554.6 387.3,545.4 389.5,545.4C391.9,545.4 394.2,551.6 396.6,551.6C397.7,551.6 398.7,548.9 399.8,548.9C400.7,548.9 401.6,551.6 402.6,551.6C404.3,551.6 406.1,539.1 407.8,539.1C409.1,539.1 410.3,545.4 411.6,545.4C414.1,545.4 416.5,543.2 419.0,543.2C420.0,543.2 420.9,546.3 421.8,546.3C423.0,546.3 424.1,542.7 425.2,542.7C426.6,542.7 428.0,547.2 429.3,547.2C430.8,547.2 432.2,535.6 433.6,535.6C435.0,535.6 436.4,541.0 437.7,543.9C438.5,545.5 439.2,548.9 440.0,548.9C441.6,548.9 443.1,544.5 444.7,544.5C445.9,544.5 447.2,548.5 448.4,550.7C449.7,552.9 450.9,557.8 452.2,557.8C454.0,557.8 455.9,540.0 457.8,540.0C459.3,540.0 460.9,554.6 462.4,554.6C463.6,554.6 464.7,547.2 465.8,547.2C467.1,547.2 468.3,547.9 469.6,548.9C470.9,550.0 472.3,559.6 473.7,559.6C474.6,559.6 475.5,557.0 476.5,557.0C477.4,557.0 478.3,558.7 479.3,558.7C480.2,558.7 481.1,557.5 482.1,557.5C484.4,557.5 486.7,564.6 489.0,564.6C490.4,564.6 491.9,560.5 493.3,560.5C494.2,560.5 495.2,561.4 496.1,561.4C497.2,561.4 498.4,554.6 499.5,554.6C500.8,554.6 502.2,564.1 503.6,564.1C505.0,564.1 506.3,556.1 507.7,556.1C510.7,556.1 513.7,563.2 516.7,563.2C518.2,563.2 519.8,559.6 521.4,559.6C522.3,559.6 523.2,560.0 524.2,560.0C525.3,560.0 526.4,553.9 527.5,553.9C528.7,553.9 529.9,558.7 531.1,558.7C532.2,558.7 533.3,550.8 534.5,548.9C535.7,546.8 536.9,546.5 538.2,544.5C540.1,541.5 541.9,533.0 543.8,530.2C544.6,529.1 545.4,528.9 546.2,527.6C547.6,525.2 549.0,515.0 550.3,508.0C551.7,500.9 553.1,486.2 554.5,484.8C555.5,483.8 556.5,484.1 557.5,483.0C558.5,481.9 559.6,472.4 560.6,469.7C561.6,467.2 562.5,464.3 563.4,464.3C564.2,464.3 564.9,467.4 565.7,469.7C566.5,472.2 567.3,477.7 568.1,480.4C569.1,483.4 570.0,484.4 570.9,487.5C571.9,490.6 572.8,494.9 573.7,500.8C574.5,506.0 575.3,520.4 576.2,524.0C577.2,528.7 578.3,532.9 579.3,532.9C580.8,532.9 582.2,532.9 583.6,532.9C585.0,532.9 586.4,543.7 587.8,544.5C588.7,545.0 589.6,544.9 590.6,545.4C591.6,545.9 592.7,549.8 593.7,549.8C594.9,549.8 596.0,548.9 597.1,548.9C598.5,548.9 599.9,551.4 601.2,553.4C602.7,555.5 604.1,562.8 605.5,562.8C606.8,562.8 608.0,549.8 609.3,549.8C610.4,549.8 611.5,562.3 612.6,562.3C613.8,562.3 615.0,548.6 616.2,548.6C617.3,548.6 618.4,561.0 619.6,561.0C621.1,561.0 622.7,560.2 624.2,560.0C625.5,559.8 626.7,559.9 628.0,559.6C629.0,559.4 630.1,552.1 631.1,552.1C632.3,552.1 633.4,559.6 634.5,559.6C635.4,559.6 636.4,554.6 637.3,554.6C638.3,554.6 639.2,557.8 640.1,557.8C641.2,557.8 642.4,548.6 643.5,548.6C644.6,548.6 645.6,551.6 646.7,551.6C647.6,551.6 648.5,551.1 649.5,550.4C650.7,549.4 652.0,539.8 653.2,537.4C654.8,534.3 656.3,531.1 657.9,531.1C659.5,531.1 661.0,531.1 662.6,531.1C663.7,531.1 664.8,532.1 665.9,533.3C667.2,534.6 668.4,545.4 669.7,545.4C671.0,545.4 672.4,543.6 673.8,543.6C674.5,543.6 675.3,548.7 676.0,550.7C677.2,553.8 678.3,558.4 679.4,558.7C680.6,559.1 681.9,559.3 683.1,559.3C684.1,559.3 685.0,557.8 685.9,557.8C687.6,557.8 689.3,563.2 691.0,563.2C692.7,563.2 694.5,554.6 696.2,554.6C697.6,554.6 699.0,561.0 700.3,561.0C702.4,561.0 704.5,556.1 706.5,556.1C707.8,556.1 709.0,556.5 710.3,557.0C711.7,557.5 713.1,560.5 714.6,560.5C716.4,560.5 718.2,556.9 720.0,555.2C720.6,554.6 721.2,553.4 721.9,553.4C723.2,553.4 724.6,563.2 726.0,563.2C727.2,563.2 728.5,557.5 729.7,557.5C731.3,557.5 733.0,564.1 734.6,564.1C737.1,564.1 739.6,556.4 742.1,556.4C744.1,556.4 746.1,557.9 748.1,559.3C749.4,560.2 750.8,563.5 752.2,563.5C753.4,563.5 754.7,554.6 755.9,554.6C758.6,554.6 761.3,561.0 764.0,561.0C765.5,561.0 767.1,554.3 768.6,554.3C770.2,554.3 771.7,555.1 773.3,556.1C774.9,557.0 776.4,562.3 778.0,562.3C778.9,562.3 779.9,561.4 780.8,561.4C782.2,561.4 783.5,563.5 784.9,563.5C786.3,563.5 787.8,557.8 789.2,557.8C790.6,557.8 792.1,567.6 793.5,567.6C795.2,567.6 796.9,558.7 798.6,558.7C800.7,558.7 802.9,558.7 805.1,558.7C807.7,558.7 810.3,563.2 813.0,563.2C814.4,563.2 815.8,562.8 817.3,562.3C818.3,561.9 819.4,560.0 820.4,560.0C821.6,560.0 822.7,565.3 823.8,565.3C824.9,565.3 825.9,560.0 827.0,560.0C828.1,560.0 829.2,565.3 830.3,565.3C832.2,565.3 834.1,557.8 836.0,557.8C837.8,557.8 839.7,560.5 841.6,560.5C843.4,560.5 845.3,557.8 847.2,557.8C849.6,557.8 851.9,561.4 854.3,561.4C855.5,561.4 856.8,555.2 858.0,555.2C859.4,555.2 860.8,560.5 862.1,560.5C864.6,560.5 867.1,554.3 869.6,554.3C871.2,554.3 872.7,555.2 874.3,555.2C875.7,555.2 877.2,553.4 878.6,553.4C879.5,553.4 880.3,557.5 881.2,557.5C882.7,557.5 884.1,546.7 885.5,545.4C887.1,543.9 888.6,544.1 890.2,542.7C891.1,541.8 892.1,540.3 893.0,537.4C893.4,536.0 893.9,531.3 894.3,528.9C895.1,524.2 896.0,522.0 896.8,517.0C897.3,513.9 897.8,509.6 898.3,505.0C898.7,501.7 899.0,498.2 899.4,493.2C899.7,488.8 900.1,484.5 900.4,475.4C900.6,470.9 900.7,454.6 900.9,451.6C901.1,448.0 901.3,448.1 901.5,445.0C901.8,440.5 902.1,429.0 902.4,421.2C902.6,415.2 902.9,409.4 903.1,403.4C903.3,397.5 903.6,389.3 903.8,385.6C904.2,379.9 904.5,376.6 904.9,373.8C905.3,370.8 905.7,367.0 906.1,367.0C906.7,367.0 907.4,370.0 908.0,373.8C908.3,375.6 908.6,381.1 908.9,385.6C909.2,390.6 909.6,396.4 909.9,403.4C910.1,408.4 910.4,414.8 910.6,421.2C910.9,428.5 911.1,438.5 911.4,445.0C911.5,447.5 911.6,449.8 911.7,451.6C912.2,461.5 912.8,468.1 913.3,475.4C913.8,481.8 914.2,487.8 914.7,493.2C915.1,497.5 915.4,501.3 915.8,505.0C916.2,509.2 916.6,513.8 917.0,517.0C917.6,521.9 918.3,525.5 918.9,528.9C919.2,530.4 919.5,531.6 919.8,532.9C920.5,536.5 921.2,543.6 922.0,543.6C923.6,543.6 925.1,540.4 926.7,540.4C927.6,540.4 928.5,542.2 929.5,543.6C930.7,545.5 932.0,552.9 933.2,552.9C935.1,552.9 937.0,552.6 938.8,552.1C940.7,551.7 942.6,548.3 944.4,546.3C946.3,544.2 948.2,540.2 950.0,539.7C951.0,539.4 951.9,539.5 952.9,539.1C954.3,538.7 955.7,529.5 957.2,527.6C958.8,525.3 960.5,525.1 962.2,523.1C963.3,521.8 964.5,517.8 965.6,517.8C966.6,517.8 967.7,524.4 968.8,524.4C970.0,524.4 971.2,519.5 972.5,519.5C974.4,519.5 976.2,525.2 978.1,528.5C979.4,530.6 980.6,533.3 981.8,535.6C984.3,540.1 986.8,548.6 989.3,548.6C990.6,548.6 991.8,548.0 993.1,548.0C994.3,548.0 995.6,552.4 996.8,553.4C997.9,554.2 998.9,554.3 1000.0,555.2C1000.9,556.0 1001.9,560.0 1002.8,560.0C1003.7,560.0 1004.7,558.7 1005.6,558.7C1007.0,558.7 1008.4,561.0 1009.7,561.0C1011.9,561.0 1014.1,552.9 1016.3,552.9C1018.2,552.9 1020.1,561.4 1022.1,561.4C1023.4,561.4 1024.8,559.6 1026.2,559.6C1027.1,559.6 1028.1,560.5 1029.0,560.5C1030.4,560.5 1031.9,555.2 1033.3,555.2C1034.5,555.2 1035.8,559.3 1037.0,559.3C1038.4,559.3 1039.8,558.5 1041.1,557.8C1042.4,557.2 1043.6,554.3 1044.9,554.3C1045.8,554.3 1046.8,555.2 1047.7,555.2C1048.9,555.2 1050.2,553.4 1051.4,551.6C1052.7,549.8 1053.9,544.9 1055.2,540.9C1056.4,537.0 1057.7,533.5 1058.9,527.6C1059.7,523.7 1060.5,516.9 1061.3,511.5C1062.0,507.4 1062.6,500.9 1063.2,499.1C1063.8,497.4 1064.3,495.9 1064.9,495.9C1065.7,495.9 1066.5,497.9 1067.3,500.0C1068.1,501.9 1068.8,507.0 1069.6,511.5C1070.4,516.4 1071.2,523.7 1072.0,529.3C1072.6,533.7 1073.3,540.3 1073.9,541.8C1074.8,544.1 1075.7,544.0 1076.7,545.7C1077.6,547.5 1078.6,551.3 1079.5,553.4C1080.4,555.5 1081.4,558.7 1082.3,558.7C1083.5,558.7 1084.8,555.2 1086.0,555.2C1087.2,555.2 1088.3,557.5 1089.4,557.5C1090.3,557.5 1091.1,557.0 1092.0,557.0C1093.5,557.0 1094.9,561.4 1096.3,561.4C1097.3,561.4 1098.2,560.0 1099.1,560.0C1100.1,560.0 1101.0,561.4 1101.9,561.4C1103.2,561.4 1104.4,557.8 1105.7,557.8C1106.9,557.8 1108.2,558.5 1109.4,559.3C1110.5,560.0 1111.5,565.9 1112.6,565.9C1113.6,565.9 1114.6,556.4 1115.6,555.2C1116.3,554.2 1117.1,553.4 1117.8,553.4C1119.1,553.4 1120.3,553.9 1121.6,553.9C1122.9,553.9 1124.3,549.8 1125.7,549.8C1127.7,549.8 1129.8,554.3 1131.9,554.3C1132.8,554.3 1133.7,554.1 1134.7,553.9C1136.0,553.6 1137.4,549.7 1138.8,548.9C1140.4,548.0 1142.0,548.1 1143.6,547.2C1145.0,546.3 1146.4,540.4 1147.8,540.4C1148.9,540.4 1150.0,540.9 1151.1,540.9C1152.5,540.9 1153.9,532.6 1155.2,532.0C1156.5,531.5 1157.7,531.6 1159.0,531.1C1160.1,530.7 1161.2,529.0 1162.3,529.0C1163.4,529.0 1164.5,533.3 1165.5,535.6C1166.8,538.2 1168.0,543.3 1169.3,543.6C1170.2,543.8 1171.1,543.7 1172.1,543.9C1173.0,544.2 1173.9,549.3 1174.9,549.3C1175.8,549.3 1176.7,548.9 1177.7,548.9C1179.2,548.9 1180.8,555.2 1182.4,555.2C1183.6,555.2 1184.9,554.7 1186.1,554.3C1187.0,553.9 1188.0,552.1 1188.9,552.1C1190.5,552.1 1192.0,562.8 1193.6,562.8C1194.8,562.8 1196.1,555.2 1197.3,555.2C1198.9,555.2 1200.4,560.0 1202.0,560.0C1203.2,560.0 1204.5,558.6 1205.7,557.8C1207.2,556.9 1208.6,554.6 1210.0,554.6C1211.7,554.6 1213.4,557.3 1215.1,559.3C1216.2,560.6 1217.3,564.6 1218.5,564.6C1220.9,564.6 1223.4,557.8 1225.9,557.8C1227.0,557.8 1228.1,562.8 1229.1,562.8C1230.4,562.8 1231.6,560.0 1232.9,560.0C1233.8,560.0 1234.7,560.5 1235.7,560.5C1236.4,560.5 1237.2,558.7 1237.9,558.7C1239.3,558.7 1240.8,564.1 1242.2,564.1C1243.1,564.1 1244.1,563.5 1245.0,563.5C1246.1,563.5 1247.3,566.7 1248.4,566.7C1249.8,566.7 1251.1,562.8 1252.5,562.8C1254.2,562.8 1256.0,566.7 1257.7,566.7C1259.0,566.7 1260.2,561.4 1261.5,561.4C1263.2,561.4 1264.8,567.1 1266.5,567.1C1268.4,567.1 1270.3,560.5 1272.1,560.5C1273.4,560.5 1274.6,562.3 1275.9,562.3C1277.2,562.3 1278.6,558.7 1280.0,558.7C1281.2,558.7 1282.5,562.3 1283.7,562.3C1284.7,562.3 1285.6,561.0 1286.5,561.0C1287.8,561.0 1289.0,565.0 1290.3,565.0C1291.5,565.0 1292.8,562.7 1294.0,562.3C1295.6,561.8 1297.1,561.9 1298.7,561.4C1300.3,560.9 1301.8,557.0 1303.4,557.0C1305.1,557.0 1306.7,568.5 1308.4,568.5C1310.5,568.5 1312.5,560.5 1314.6,560.5C1316.2,560.5 1317.7,560.8 1319.3,561.0C1320.8,561.3 1322.4,563.2 1324.0,563.2C1325.4,563.2 1326.8,559.6 1328.3,559.6C1330.2,559.6 1332.2,566.7 1334.2,566.7C1335.8,566.7 1337.4,561.4 1338.9,561.4C1339.9,561.4 1340.8,562.3 1341.7,562.3C1343.0,562.3 1344.2,560.5 1345.5,560.5C1346.7,560.5 1348.0,563.2 1349.2,563.2C1350.8,563.2 1352.3,558.7 1353.9,558.7C1355.4,558.7 1357.0,559.3 1358.6,560.0C1359.8,560.5 1361.0,563.2 1362.3,563.2C1363.5,563.2 1364.8,561.8 1366.0,561.8C1367.0,561.8 1367.9,562.8 1368.8,562.8C1371.0,562.8 1373.2,561.0 1375.4,561.0C1376.6,561.0 1377.9,561.4 1379.1,561.4C1381.9,561.4 1384.7,556.4 1387.5,556.4C1388.8,556.4 1390.0,557.0 1391.3,557.8C1392.7,558.8 1394.2,567.1 1395.6,567.1C1397.3,567.1 1399.0,561.0 1400.6,561.0C1402.2,561.0 1403.8,565.0 1405.3,565.0C1407.5,565.0 1409.7,557.8 1411.9,557.8C1413.1,557.8 1414.4,559.3 1415.6,559.3C1416.8,559.3 1418.1,557.0 1419.3,557.0C1420.6,557.0 1421.8,559.6 1423.1,559.6C1424.0,559.6 1425.0,558.7 1425.9,558.7C1427.1,558.7 1428.4,564.6 1429.6,564.6C1432.1,564.6 1434.6,557.5 1437.1,557.5C1438.4,557.5 1439.6,563.2 1440.8,563.2C1442.4,563.2 1444.0,557.0 1445.5,557.0C1447.2,557.0 1448.9,562.8 1450.6,562.8C1452.0,562.8 1453.4,559.9 1454.9,558.7C1456.1,557.7 1457.4,556.1 1458.6,556.1C1460.2,556.1 1461.7,559.6 1463.3,561.4C1464.7,563.1 1466.2,566.4 1467.6,566.4C1469.0,566.4 1470.3,560.5 1471.7,560.5C1473.0,560.5 1474.2,562.3 1475.4,562.3C1477.0,562.3 1478.6,559.6 1480.1,559.6C1481.5,559.6 1482.9,565.9 1484.2,565.9C1485.7,565.9 1487.1,559.3 1488.5,559.3C1490.7,559.3 1492.9,561.2 1495.1,562.3C1497.1,563.3 1499.1,565.5 1501.1,565.5C1502.8,565.5 1504.6,561.8 1506.3,561.8C1507.9,561.8 1509.4,563.5 1511.0,563.5C1512.5,563.5 1514.1,561.8 1515.7,561.8C1517.2,561.8 1518.8,563.2 1520.3,563.2C1521.9,563.2 1523.5,561.8 1525.0,561.8C1527.2,561.8 1529.4,563.6 1531.6,564.1C1533.6,564.5 1535.7,565.0 1537.7,565.0C1539.1,565.0 1540.5,559.3 1541.8,559.3C1543.1,559.3 1544.3,559.6 1545.6,559.6C1547.5,559.6 1549.3,557.5 1551.2,557.5C1553.1,557.5 1554.9,557.5 1556.8,557.5C1558.7,557.5 1560.5,555.2 1562.4,555.2C1563.3,555.2 1564.2,558.1 1565.0,559.6" stroke="#ff7373" stroke-width="4.1"/>
<path class="crv" d="M167.1,429.2C169.4,424.7 171.7,415.7 174.0,415.7C177.0,415.7 179.9,434.0 182.8,434.0C184.9,434.0 186.9,423.9 189.0,423.9C190.7,423.9 192.5,434.0 194.2,434.0C196.0,434.0 197.8,427.8 199.7,427.8C201.9,427.8 204.1,439.9 206.4,439.9C208.7,439.9 211.0,433.2 213.3,433.2C215.2,433.2 217.0,435.3 218.9,435.3C221.1,435.3 223.3,426.0 225.5,423.4C227.6,420.7 229.8,417.5 232.0,417.5C232.9,417.5 233.9,419.2 234.8,420.7C237.4,425.0 240.0,451.9 242.7,451.9C245.8,451.9 249.0,425.7 252.2,425.7C254.8,425.7 257.4,434.9 260.1,434.9C262.9,434.9 265.7,424.4 268.5,422.5C269.7,421.6 271.0,421.4 272.2,420.7C273.3,420.0 274.5,419.3 275.6,418.0C277.0,416.5 278.3,411.7 279.7,409.6C280.8,407.9 281.9,407.2 283.1,405.5C284.9,403.0 286.7,395.7 288.5,395.7C291.0,395.7 293.6,431.9 296.2,431.9C298.3,431.9 300.4,415.7 302.5,415.7C304.3,415.7 306.0,427.4 307.8,431.4C309.5,435.4 311.2,441.2 313.0,441.2C314.9,441.2 316.7,436.4 318.6,436.4C320.5,436.4 322.3,448.5 324.2,449.2C325.6,449.7 327.0,449.6 328.3,450.1C330.1,450.7 331.8,456.0 333.6,456.0C335.6,456.0 337.6,447.0 339.6,447.0C341.4,447.0 343.3,452.4 345.2,452.4C347.3,452.4 349.5,442.1 351.7,442.1C354.4,442.1 357.1,453.1 359.8,453.1C361.6,453.1 363.5,447.4 365.4,447.4C367.0,447.4 368.7,454.5 370.4,454.5C372.9,454.5 375.4,434.0 377.9,434.0C379.6,434.0 381.3,443.8 382.9,443.8C385.4,443.8 387.9,426.4 390.4,426.4C392.3,426.4 394.2,434.0 396.0,434.0C398.2,434.0 400.4,422.5 402.6,422.5C404.3,422.5 406.1,429.6 407.8,429.6C410.0,429.6 412.2,418.5 414.4,418.5C416.1,418.5 417.9,423.0 419.6,423.0C421.6,423.0 423.6,410.9 425.6,410.9C427.1,410.9 428.7,415.3 430.3,415.3C431.8,415.3 433.4,414.5 434.9,414.5C436.6,414.5 438.3,420.1 440.0,424.2C441.1,427.0 442.2,434.9 443.4,434.9C446.5,434.9 449.6,425.7 452.7,425.7C454.7,425.7 456.7,431.7 458.7,431.7C460.3,431.7 461.8,431.4 463.4,431.4C466.3,431.4 469.2,443.0 472.2,443.0C474.7,443.0 477.3,434.9 479.8,434.9C483.3,434.9 486.7,443.5 490.1,443.5C492.6,443.5 495.1,424.6 497.6,424.6C500.0,424.6 502.5,458.1 504.9,458.1C507.5,458.1 510.0,430.5 512.6,430.5C514.1,430.5 515.6,436.7 517.1,436.7C518.3,436.7 519.6,436.4 520.8,436.4C522.4,436.4 524.0,442.1 525.7,442.1C528.1,442.1 530.5,431.4 533.0,431.4C534.4,431.4 535.8,432.8 537.3,432.8C538.6,432.8 540.0,431.4 541.4,431.4C543.6,431.4 545.9,436.7 548.1,436.7C551.2,436.7 554.2,429.6 557.3,429.6C560.9,429.6 564.5,439.4 568.1,439.4C570.3,439.4 572.5,431.4 574.7,431.4C577.0,431.4 579.3,445.3 581.6,445.3C583.6,445.3 585.7,436.7 587.8,436.7C589.3,436.7 590.9,437.6 592.4,437.6C593.7,437.6 594.9,435.8 596.2,435.8C598.4,435.8 600.5,440.8 602.7,440.8C604.8,440.8 606.8,435.8 608.9,435.8C611.5,435.8 614.1,442.1 616.7,444.7C619.4,447.4 622.1,451.9 624.8,451.9C627.3,451.9 629.8,440.3 632.3,440.3C634.4,440.3 636.5,449.2 638.6,449.2C640.7,449.2 642.7,441.5 644.8,441.5C647.0,441.5 649.2,447.0 651.3,447.0C654.8,447.0 658.2,435.8 661.6,435.8C663.5,435.8 665.4,447.8 667.2,447.8C668.8,447.8 670.4,447.4 671.9,447.4C674.1,447.4 676.3,451.5 678.5,451.5C680.5,451.5 682.6,447.8 684.6,447.8C688.4,447.8 692.1,453.1 695.9,453.1C697.7,453.1 699.6,448.3 701.5,448.3C703.2,448.3 704.8,451.5 706.5,451.5C708.4,451.5 710.3,448.3 712.1,448.3C714.3,448.3 716.5,450.4 718.7,450.4C719.1,450.4 719.6,450.2 720.0,450.1C722.5,449.4 725.0,448.6 727.5,447.8C730.0,447.0 732.5,445.3 735.0,445.3C738.0,445.3 740.9,457.2 743.9,457.2C747.1,457.2 750.2,448.8 753.3,448.8C755.6,448.8 757.9,455.4 760.2,455.4C762.4,455.4 764.6,451.9 766.8,451.0C768.5,450.2 770.2,449.2 772.0,449.2C774.0,449.2 776.0,452.4 778.0,452.4C780.6,452.4 783.2,445.3 785.8,445.3C788.8,445.3 791.8,450.7 794.8,451.0C797.3,451.2 799.8,451.1 802.3,451.3C804.0,451.5 805.8,454.5 807.5,454.5C810.3,454.5 813.1,444.7 815.9,444.7C818.9,444.7 821.8,448.9 824.7,451.0C827.2,452.7 829.7,456.3 832.2,456.3C835.8,456.3 839.3,441.7 842.9,441.7C844.9,441.7 847.0,448.8 849.1,448.8C851.5,448.8 854.0,443.8 856.5,443.8C859.0,443.8 861.5,447.4 864.0,447.4C866.5,447.4 869.0,441.2 871.5,441.2C874.0,441.2 876.5,445.4 879.0,446.0C880.2,446.3 881.5,446.2 882.7,446.5C884.6,446.9 886.5,449.7 888.3,449.7C890.2,449.7 892.1,447.4 893.9,447.4C896.0,447.4 898.1,453.6 900.1,453.6C902.4,453.6 904.7,448.8 907.0,447.4C909.5,445.8 912.0,443.8 914.5,443.8C917.0,443.8 919.5,447.2 922.0,447.8C924.8,448.3 927.6,448.3 930.4,448.8C934.5,449.6 938.5,454.9 942.6,454.9C945.2,454.9 947.8,444.7 950.4,444.7C952.3,444.7 954.2,451.9 956.0,451.9C958.1,451.9 960.1,443.8 962.2,443.8C964.1,443.8 965.9,447.4 967.8,447.4C969.7,447.4 971.6,444.2 973.4,444.2C975.9,444.2 978.4,447.8 980.9,447.8C983.5,447.8 986.1,443.5 988.8,443.5C991.4,443.5 994.1,458.1 996.8,458.1C997.9,458.1 998.9,454.0 1000.0,452.7C1000.9,451.6 1001.9,450.1 1002.8,450.1C1004.6,450.1 1006.3,454.5 1008.0,454.5C1010.3,454.5 1012.7,450.1 1015.0,449.2C1016.8,448.5 1018.7,447.8 1020.6,447.8C1022.6,447.8 1024.6,450.6 1026.6,450.6C1028.6,450.6 1030.7,447.0 1032.7,447.0C1035.5,447.0 1038.3,455.1 1041.1,455.1C1042.4,455.1 1043.6,455.0 1044.9,454.9C1046.4,454.8 1048.0,453.6 1049.6,453.6C1053.0,453.6 1056.4,464.3 1059.9,464.3C1063.4,464.3 1067.0,449.5 1070.5,449.5C1073.1,449.5 1075.6,462.2 1078.2,462.2C1080.2,462.2 1082.2,453.6 1084.2,453.6C1086.0,453.6 1087.9,456.3 1089.8,456.3C1091.8,456.3 1093.9,450.1 1095.9,450.1C1098.6,450.1 1101.2,455.8 1103.8,455.8C1105.7,455.8 1107.5,455.1 1109.4,455.1C1111.0,455.1 1112.5,456.0 1114.1,456.0C1115.8,456.0 1117.6,452.7 1119.3,452.7C1121.3,452.7 1123.3,456.2 1125.3,457.2C1126.6,457.8 1127.8,457.9 1129.1,458.6C1130.6,459.5 1132.2,463.4 1133.7,463.4C1136.0,463.4 1138.3,454.5 1140.6,454.5C1143.5,454.5 1146.3,464.7 1149.1,464.7C1152.1,464.7 1155.0,457.2 1158.0,457.2C1160.2,457.2 1162.4,461.7 1164.6,461.7C1169.0,461.7 1173.3,460.6 1177.7,459.5C1180.4,458.8 1183.0,455.4 1185.7,455.4C1189.0,455.4 1192.2,461.5 1195.4,462.5C1196.7,463.0 1197.9,463.4 1199.2,463.4C1201.4,463.4 1203.6,462.5 1205.7,462.0C1207.6,461.6 1209.5,460.8 1211.3,460.8C1213.5,460.8 1215.7,464.7 1217.9,464.7C1221.6,464.7 1225.4,458.1 1229.1,458.1C1231.6,458.1 1234.1,463.4 1236.6,463.4C1238.6,463.4 1240.6,459.5 1242.6,459.5C1244.3,459.5 1246.1,461.7 1247.8,461.7C1249.9,461.7 1251.9,459.5 1254.0,459.5C1256.9,459.5 1259.9,467.9 1262.8,467.9C1265.0,467.9 1267.1,466.3 1269.3,464.9C1271.8,463.3 1274.3,456.8 1276.8,456.8C1277.9,456.8 1278.9,457.6 1280.0,458.1C1282.5,459.1 1285.0,461.7 1287.5,461.7C1290.6,461.7 1293.7,461.0 1296.8,460.4C1298.8,460.0 1300.8,458.1 1302.8,458.1C1305.3,458.1 1307.8,464.7 1310.3,464.7C1313.9,464.7 1317.5,455.4 1321.1,455.4C1323.8,455.4 1326.4,462.2 1329.0,462.2C1330.9,462.2 1332.7,458.4 1334.6,458.4C1336.4,458.4 1338.1,459.9 1339.9,459.9C1341.4,459.9 1343.0,459.5 1344.5,459.5C1346.8,459.5 1349.1,463.8 1351.4,463.8C1353.5,463.8 1355.6,459.0 1357.6,459.0C1359.5,459.0 1361.4,460.4 1363.2,460.4C1364.7,460.4 1366.1,459.9 1367.5,459.9C1370.0,459.9 1372.5,467.0 1375.0,467.0C1377.0,467.0 1379.0,459.0 1381.0,459.0C1382.9,459.0 1384.7,459.0 1386.6,459.0C1389.2,459.0 1391.8,453.6 1394.5,453.6C1398.2,453.6 1401.9,463.4 1405.7,463.4C1409.0,463.4 1412.3,453.1 1415.6,453.1C1418.7,453.1 1421.8,457.7 1425.0,457.7C1427.4,457.7 1429.9,456.6 1432.4,455.8C1434.5,455.1 1436.5,452.7 1438.6,452.7C1440.6,452.7 1442.6,455.8 1444.6,455.8C1446.8,455.8 1449.0,452.4 1451.1,452.4C1454.1,452.4 1457.1,459.5 1460.1,459.5C1462.0,459.5 1463.9,451.5 1465.7,451.5C1467.4,451.5 1469.1,454.9 1470.8,454.9C1472.5,454.9 1474.3,452.7 1476.0,452.7C1478.6,452.7 1481.2,463.4 1483.9,463.4C1486.2,463.4 1488.6,454.0 1491.0,454.0C1493.0,454.0 1495.0,456.7 1497.0,457.2C1499.5,457.8 1501.9,458.4 1504.4,458.4C1506.3,458.4 1508.2,457.2 1510.0,457.2C1511.9,457.2 1513.8,459.0 1515.7,459.0C1518.5,459.0 1521.3,450.4 1524.1,450.4C1526.3,450.4 1528.4,454.7 1530.6,456.3C1533.4,458.4 1536.2,461.7 1539.0,461.7C1541.2,461.7 1543.4,461.3 1545.6,460.8C1547.5,460.3 1549.3,452.7 1551.2,452.7C1553.2,452.7 1555.2,459.5 1557.2,459.5C1558.6,459.5 1560.0,459.0 1561.5,459.0C1562.7,459.0 1563.9,462.2 1565.0,463.8" stroke="#006400" stroke-width="4.1"/>
<path class="crv" d="M166.5,350.8C167.2,341.3 167.8,322.3 168.4,322.3C169.5,322.3 170.5,325.0 171.6,325.0C172.8,325.0 174.1,307.1 175.3,307.1C177.2,307.1 179.1,348.1 180.9,348.1C182.9,348.1 184.8,306.3 186.7,306.3C188.0,306.3 189.2,352.9 190.5,352.9C191.9,352.9 193.2,297.0 194.6,297.0C196.0,297.0 197.5,356.5 198.9,356.5C200.6,356.5 202.3,322.3 204.0,322.3C204.9,322.3 205.8,335.6 206.8,335.6C208.1,335.6 209.5,308.0 210.9,308.0C212.0,308.0 213.1,316.8 214.2,317.3C214.9,317.6 215.5,317.5 216.1,317.8C217.4,318.5 218.6,352.9 219.9,352.9C220.8,352.9 221.7,324.4 222.7,324.4C223.6,324.4 224.5,354.0 225.5,354.0C226.8,354.0 228.2,301.8 229.6,301.8C230.5,301.8 231.4,332.1 232.4,332.1C233.5,332.1 234.6,287.9 235.7,287.9C236.9,287.9 238.0,315.7 239.1,315.7C240.9,315.7 242.7,292.0 244.5,292.0C245.8,292.0 247.0,330.8 248.3,330.8C249.6,330.8 250.9,278.3 252.2,278.3C253.8,278.3 255.3,324.1 256.9,324.1C257.6,324.1 258.4,323.2 259.1,322.3C261.3,319.5 263.5,263.2 265.7,263.2C267.1,263.2 268.5,291.1 270.0,291.1C270.9,291.1 271.8,244.4 272.8,244.4C273.8,244.4 274.9,265.6 276.0,265.6C277.1,265.6 278.2,237.1 279.3,237.1C280.8,237.1 282.3,271.5 283.8,271.5C284.4,271.5 285.1,271.1 285.7,270.6C287.6,269.1 289.6,229.3 291.5,229.3C293.0,229.3 294.6,281.0 296.2,281.0C298.0,281.0 299.9,218.4 301.8,218.4C303.3,218.4 304.9,292.0 306.4,292.0C307.7,292.0 308.9,275.1 310.2,275.1C311.4,275.1 312.6,295.9 313.7,295.9C315.0,295.9 316.2,252.8 317.5,252.8C318.3,252.8 319.1,267.3 319.9,268.9C320.7,270.4 321.5,269.8 322.3,271.5C323.2,273.3 324.1,330.3 325.0,330.3C326.2,330.3 327.5,281.7 328.7,281.7C329.5,281.7 330.3,300.0 331.1,300.0C332.2,300.0 333.3,283.6 334.3,283.6C335.4,283.6 336.6,318.5 337.7,318.7C338.8,319.0 339.9,318.9 341.0,319.1C342.4,319.4 343.8,325.9 345.2,331.2C346.5,336.5 347.9,354.0 349.3,354.0C351.0,354.0 352.8,307.1 354.5,307.1C355.9,307.1 357.3,330.3 358.6,330.3C359.3,330.3 359.9,330.3 360.5,330.3C361.3,330.3 362.1,319.1 362.9,319.1C364.0,319.1 365.0,332.1 366.1,332.1C367.4,332.1 368.7,308.4 370.0,308.4C371.5,308.4 373.0,350.3 374.5,350.3C376.1,350.3 377.6,285.2 379.2,285.2C380.8,285.2 382.4,317.8 384.1,317.8C385.3,317.8 386.6,293.4 387.8,293.4C388.9,293.4 389.9,308.9 391.0,308.9C391.7,308.9 392.5,299.1 393.2,299.1C394.4,299.1 395.5,316.9 396.6,316.9C397.5,316.9 398.5,297.4 399.4,297.4C400.6,297.4 401.9,331.2 403.1,331.2C404.5,331.2 405.9,296.8 407.3,296.8C408.3,296.8 409.3,328.5 410.2,328.5C411.7,328.5 413.2,306.3 414.7,306.3C415.7,306.3 416.7,306.6 417.7,306.6C418.7,306.6 419.6,291.5 420.5,291.5C421.9,291.5 423.3,299.4 424.7,300.9C425.3,301.6 425.9,302.3 426.5,302.3C427.5,302.3 428.4,300.0 429.3,300.0C430.4,300.0 431.6,322.3 432.7,322.3C434.4,322.3 436.1,308.9 437.7,308.9C438.5,308.9 439.2,324.1 440.0,324.1C441.1,324.1 442.2,288.4 443.4,288.4C444.6,288.4 445.7,327.3 446.9,327.3C448.7,327.3 450.4,279.0 452.2,279.0C453.8,279.0 455.5,328.5 457.2,328.5C458.3,328.5 459.5,305.0 460.6,305.0C461.8,305.0 463.1,342.8 464.3,342.8C465.9,342.8 467.4,325.0 469.0,325.0C470.2,325.0 471.5,340.1 472.7,340.1C473.5,340.1 474.4,339.3 475.2,338.3C476.8,336.3 478.5,304.5 480.2,304.5C481.8,304.5 483.3,338.9 484.9,338.9C486.8,338.9 488.6,306.3 490.5,306.3C491.7,306.3 493.0,313.7 494.2,317.8C495.5,322.0 496.7,331.2 498.0,331.2C498.6,331.2 499.2,328.5 499.9,328.5C501.0,328.5 502.1,350.4 503.2,350.4C504.0,350.4 504.7,347.2 505.5,347.2C506.4,347.2 507.3,349.0 508.3,349.0C509.5,349.0 510.8,328.5 512.0,328.5C513.3,328.5 514.5,328.5 515.7,328.5C516.9,328.5 518.0,354.7 519.1,354.7C521.5,354.7 524.0,296.8 526.4,296.8C527.7,296.8 528.9,331.2 530.1,331.2C531.3,331.2 532.4,284.9 533.5,284.9C535.6,284.9 537.6,343.7 539.7,343.7C541.9,343.7 544.1,301.8 546.2,301.8C547.6,301.8 549.0,323.5 550.3,324.1C551.6,324.6 552.8,324.5 554.1,325.0C555.0,325.3 556.0,327.6 556.9,327.6C557.3,327.6 557.8,323.7 558.2,323.7C559.3,323.7 560.4,334.4 561.6,334.4C562.5,334.4 563.4,322.3 564.4,322.3C565.3,322.3 566.2,326.7 567.2,326.7C568.3,326.7 569.4,289.3 570.5,289.3C572.0,289.3 573.5,341.9 575.0,341.9C575.8,341.9 576.7,341.0 577.5,341.0C578.2,341.0 579.0,345.8 579.7,345.8C581.0,345.8 582.3,317.8 583.6,317.8C585.0,317.8 586.4,338.3 587.8,338.3C589.0,338.3 590.2,316.9 591.5,316.9C593.1,316.9 594.6,356.1 596.2,356.1C597.2,356.1 598.3,329.1 599.4,329.1C600.5,329.1 601.6,335.6 602.7,335.6C603.3,335.6 604.0,334.4 604.6,334.4C605.6,334.4 606.7,346.9 607.8,346.9C610.0,346.9 612.1,320.9 614.3,320.9C616.2,320.9 618.1,351.1 619.9,351.1C621.7,351.1 623.4,346.5 625.2,342.8C626.7,339.4 628.3,327.6 629.8,327.6C631.4,327.6 633.0,352.6 634.5,352.6C635.6,352.6 636.6,334.4 637.7,334.4C638.8,334.4 639.9,349.5 641.1,349.5C642.1,349.5 643.2,336.3 644.2,335.6C645.0,335.1 645.9,335.3 646.7,334.8C647.6,334.2 648.5,328.5 649.5,328.5C650.4,328.5 651.3,339.2 652.3,339.2C653.1,339.2 653.9,338.3 654.7,338.3C655.5,338.3 656.2,342.2 657.0,342.2C658.2,342.2 659.5,332.1 660.7,332.1C661.5,332.1 662.3,346.9 663.1,346.9C664.5,346.9 665.9,318.7 667.2,318.7C668.2,318.7 669.1,319.6 670.0,319.6C671.1,319.6 672.2,317.3 673.2,317.3C674.7,317.3 676.1,344.0 677.5,344.0C679.2,344.0 680.9,327.6 682.6,327.6C683.6,327.6 684.6,341.0 685.6,341.0C687.3,341.0 688.9,320.5 690.6,320.5C692.2,320.5 693.7,341.9 695.3,341.9C696.5,341.9 697.8,326.2 699.0,326.2C700.3,326.2 701.5,327.4 702.8,328.5C704.7,330.2 706.5,339.7 708.4,339.7C710.1,339.7 711.8,320.0 713.4,320.0C714.9,320.0 716.3,341.6 717.7,342.8C718.4,343.3 719.0,343.1 719.6,343.7C719.7,343.8 719.9,344.3 720.0,344.7C720.9,347.4 721.9,354.7 722.8,354.7C723.7,354.7 724.7,338.0 725.6,336.7C726.4,335.6 727.1,335.8 727.9,334.9C730.1,332.3 732.3,311.7 734.6,311.7C735.8,311.7 737.1,326.0 738.3,326.0C739.7,326.0 741.1,320.6 742.4,320.6C743.7,320.6 744.9,322.7 746.2,325.1C747.2,327.1 748.3,338.5 749.4,338.5C750.3,338.5 751.2,327.8 752.2,327.8C753.0,327.8 753.8,328.7 754.6,328.7C755.4,328.7 756.2,325.1 757.0,325.1C758.2,325.1 759.4,349.1 760.6,349.1C761.8,349.1 763.0,317.6 764.1,317.6C765.3,317.6 766.5,351.8 767.7,351.8C768.6,351.8 769.6,346.5 770.5,346.5C771.2,346.5 772.0,346.5 772.7,346.5C773.7,346.5 774.7,320.6 775.7,320.6C776.8,320.6 777.9,344.9 778.9,345.6C779.7,346.1 780.5,346.0 781.3,346.5C782.4,347.1 783.5,355.0 784.5,355.0C785.8,355.0 787.0,347.3 788.3,343.8C789.8,339.4 791.4,331.3 792.9,331.3C794.3,331.3 795.7,347.4 797.1,347.4C798.1,347.4 799.1,347.0 800.0,346.5C801.3,345.8 802.5,327.8 803.8,327.8C804.7,327.8 805.5,344.7 806.4,344.7C807.7,344.7 808.9,324.2 810.1,324.2C811.4,324.2 812.6,342.0 813.9,342.0C815.9,342.0 818.0,327.8 820.1,327.8C821.3,327.8 822.6,343.3 823.8,343.3C825.5,343.3 827.3,310.8 829.0,310.8C830.1,310.8 831.2,314.8 832.2,317.1C833.3,319.5 834.5,325.1 835.6,325.1C836.2,325.1 836.8,323.3 837.5,323.3C838.5,323.3 839.6,334.4 840.6,334.4C841.6,334.4 842.5,315.8 843.4,315.8C844.8,315.8 846.2,342.5 847.6,342.5C849.0,342.5 850.4,315.8 851.9,315.8C852.9,315.8 854.0,336.7 855.0,336.7C856.2,336.7 857.3,317.5 858.4,310.8C859.8,302.7 861.1,291.2 862.5,291.2C863.5,291.2 864.5,300.2 865.5,300.2C866.7,300.2 867.9,280.6 869.1,280.6C870.2,280.6 871.3,302.3 872.4,302.3C873.4,302.3 874.3,292.1 875.2,292.1C876.5,292.1 877.7,292.1 879.0,292.1C880.1,292.1 881.2,301.0 882.3,301.0C883.5,301.0 884.7,275.8 885.9,275.8C887.0,275.8 888.1,282.0 889.3,282.0C890.1,282.0 890.9,279.0 891.7,275.2C892.3,272.3 892.9,259.1 893.6,252.1C894.3,243.6 895.1,235.2 895.8,228.9C896.7,221.1 897.7,215.7 898.6,209.3C899.2,205.1 899.9,197.7 900.5,196.8C901.3,195.7 902.1,196.3 902.9,195.1C903.4,194.4 903.8,186.7 904.2,181.2C904.7,175.6 905.1,164.9 905.5,160.1C906.0,154.7 906.5,149.3 907.0,148.0C907.8,146.1 908.5,144.8 909.3,144.8C909.9,144.8 910.5,146.8 911.1,148.7C911.8,150.7 912.4,156.9 913.0,160.7C913.8,165.6 914.6,170.4 915.4,174.6C916.1,177.8 916.7,179.1 917.3,183.5C917.9,187.9 918.6,201.2 919.2,209.3C919.8,217.4 920.4,227.0 921.1,232.5C921.9,239.5 922.7,241.6 923.5,248.5C924.1,253.8 924.7,262.5 925.4,269.9C925.8,275.0 926.2,285.9 926.7,285.9C927.6,285.9 928.5,282.3 929.5,282.3C930.4,282.3 931.3,287.4 932.3,288.6C933.3,289.9 934.4,289.6 935.5,291.2C936.1,292.2 936.7,297.5 937.3,301.9C938.0,306.4 938.6,319.7 939.2,319.7C940.3,319.7 941.4,314.0 942.6,314.0C943.8,314.0 945.1,318.9 946.3,318.9C947.2,318.9 948.2,315.3 949.1,315.3C950.0,315.3 951.0,315.8 951.9,315.8C952.7,315.8 953.4,312.6 954.2,312.6C955.3,312.6 956.4,333.6 957.5,333.6C959.7,333.6 961.9,321.2 964.1,321.2C965.5,321.2 966.9,341.1 968.4,341.1C969.4,341.1 970.5,334.9 971.6,334.9C973.1,334.9 974.7,350.0 976.2,350.0C977.2,350.0 978.1,337.8 979.0,334.0C980.0,330.2 980.9,325.1 981.8,325.1C982.8,325.1 983.7,326.9 984.7,326.9C985.6,326.9 986.5,321.2 987.5,321.2C989.0,321.2 990.6,344.3 992.1,344.3C993.4,344.3 994.6,330.8 995.9,330.8C996.9,330.8 998.0,344.3 999.1,345.0C999.4,345.3 999.7,345.4 1000.0,345.4C1000.9,345.4 1001.9,335.6 1002.8,335.6C1004.2,335.6 1005.5,357.0 1006.9,357.0C1008.2,357.0 1009.4,333.0 1010.7,333.0C1011.8,333.0 1012.9,352.2 1014.0,352.2C1015.0,352.2 1015.9,345.1 1016.8,345.1C1017.6,345.1 1018.3,346.3 1019.1,346.3C1020.1,346.3 1021.1,338.9 1022.1,336.9C1023.4,334.2 1024.8,331.2 1026.2,331.2C1027.4,331.2 1028.7,345.8 1029.9,345.8C1031.0,345.8 1032.2,328.0 1033.3,328.0C1034.0,328.0 1034.8,333.0 1035.5,333.0C1036.7,333.0 1037.8,326.2 1038.9,326.2C1040.7,326.2 1042.5,335.6 1044.3,335.6C1045.6,335.6 1046.9,328.2 1048.3,325.9C1049.3,324.0 1050.4,323.8 1051.4,321.4C1052.4,319.2 1053.3,306.6 1054.2,304.5C1055.2,302.4 1056.1,302.5 1057.0,300.6C1058.0,298.7 1058.9,294.0 1059.9,290.2C1060.8,286.5 1061.7,277.8 1062.7,277.8C1063.7,277.8 1064.8,290.6 1065.8,290.6C1067.3,290.6 1068.7,284.0 1070.1,284.0C1070.9,284.0 1071.8,287.4 1072.6,290.2C1073.6,293.9 1074.7,308.0 1075.7,308.0C1077.4,308.0 1079.1,305.4 1080.8,305.4C1081.6,305.4 1082.4,308.5 1083.2,311.6C1084.0,314.7 1084.9,330.8 1085.7,330.8C1086.7,330.8 1087.8,317.8 1088.8,317.8C1090.1,317.8 1091.3,352.2 1092.6,352.2C1094.1,352.2 1095.7,339.2 1097.3,339.2C1098.4,339.2 1099.5,348.1 1100.6,348.1C1101.4,348.1 1102.1,341.0 1102.9,341.0C1104.0,341.0 1105.1,347.4 1106.2,348.1C1107.0,348.6 1107.7,348.5 1108.5,349.0C1109.2,349.5 1110.0,353.5 1110.7,353.5C1112.2,353.5 1113.6,333.0 1115.0,333.0C1115.8,333.0 1116.6,338.3 1117.5,338.3C1118.7,338.3 1120.0,329.8 1121.2,329.8C1122.1,329.8 1122.9,333.5 1123.8,333.9C1124.6,334.2 1125.4,334.1 1126.2,334.4C1127.3,334.8 1128.4,357.6 1129.4,357.6C1130.7,357.6 1131.9,332.4 1133.2,332.4C1134.6,332.4 1136.0,338.0 1137.5,339.2C1138.4,340.0 1139.3,340.0 1140.3,341.0C1141.5,342.3 1142.8,357.0 1144.0,357.0C1145.0,357.0 1145.9,354.4 1146.8,354.4C1147.4,354.4 1148.1,356.1 1148.7,356.1C1149.9,356.1 1151.2,334.4 1152.4,334.4C1153.2,334.4 1154.1,345.4 1154.9,345.4C1155.9,345.4 1157.0,323.2 1158.0,323.2C1159.1,323.2 1160.2,342.8 1161.2,342.8C1162.5,342.8 1163.7,328.5 1165.0,328.5C1166.4,328.5 1167.8,344.0 1169.3,344.0C1170.8,344.0 1172.4,333.9 1173.9,333.9C1175.2,333.9 1176.4,335.1 1177.7,336.5C1178.6,337.6 1179.6,344.0 1180.5,344.0C1181.6,344.0 1182.7,327.3 1183.9,327.3C1185.2,327.3 1186.6,346.3 1188.0,346.3C1188.9,346.3 1189.8,335.1 1190.8,333.0C1192.0,330.2 1193.3,330.2 1194.5,327.6C1195.3,326.0 1196.1,320.0 1196.9,320.0C1198.1,320.0 1199.3,330.3 1200.5,330.3C1201.6,330.3 1202.7,321.9 1203.9,321.9C1206.0,321.9 1208.2,338.7 1210.4,338.7C1212.0,338.7 1213.5,323.7 1215.1,323.7C1217.0,323.7 1218.8,337.4 1220.7,337.4C1223.1,337.4 1225.4,317.3 1227.8,317.3C1229.5,317.3 1231.2,345.4 1232.9,345.4C1234.7,345.4 1236.6,323.7 1238.5,323.7C1240.3,323.7 1242.2,350.3 1244.1,350.3C1245.6,350.3 1247.2,330.3 1248.8,330.3C1249.7,330.3 1250.6,330.8 1251.6,330.8C1252.8,330.8 1254.1,324.1 1255.3,324.1C1256.9,324.1 1258.4,339.7 1260.0,339.7C1261.1,339.7 1262.2,336.5 1263.3,336.5C1264.8,336.5 1266.3,350.8 1267.8,350.8C1269.5,350.8 1271.1,322.3 1272.7,322.3C1273.9,322.3 1275.2,342.8 1276.4,342.8C1277.2,342.8 1277.9,342.3 1278.7,341.9C1279.1,341.7 1279.6,341.0 1280.0,341.0C1280.7,341.0 1281.5,341.9 1282.2,341.9C1283.4,341.9 1284.5,333.9 1285.6,333.9C1286.7,333.9 1287.9,345.1 1289.0,345.1C1290.2,345.1 1291.5,332.1 1292.7,332.1C1293.5,332.1 1294.2,335.6 1295.0,335.6C1295.7,335.6 1296.5,328.5 1297.2,325.9C1298.2,322.3 1299.2,316.9 1300.2,316.9C1300.8,316.9 1301.4,320.6 1302.1,323.2C1303.1,327.5 1304.2,341.0 1305.2,341.0C1306.5,341.0 1307.7,331.2 1309.0,331.2C1310.7,331.2 1312.5,344.0 1314.2,344.0C1315.3,344.0 1316.3,335.6 1317.4,335.6C1319.0,335.6 1320.5,342.8 1322.1,342.8C1323.3,342.8 1324.6,342.0 1325.8,341.0C1327.3,339.8 1328.7,324.1 1330.1,324.1C1331.2,324.1 1332.2,328.5 1333.3,328.5C1334.6,328.5 1335.8,325.9 1337.0,325.9C1338.3,325.9 1339.5,328.2 1340.8,331.2C1341.6,333.1 1342.4,344.6 1343.2,344.6C1344.3,344.6 1345.3,331.6 1346.4,331.6C1347.6,331.6 1348.9,341.5 1350.1,341.5C1351.7,341.5 1353.3,334.4 1354.8,334.4C1356.4,334.4 1357.9,354.0 1359.5,354.0C1360.7,354.0 1362.0,345.9 1363.2,343.7C1364.7,341.1 1366.1,338.0 1367.5,338.0C1369.0,338.0 1370.5,349.5 1372.0,349.5C1373.1,349.5 1374.3,347.0 1375.4,345.4C1377.3,342.9 1379.1,336.2 1381.0,336.2C1382.7,336.2 1384.4,352.6 1386.0,352.6C1387.5,352.6 1388.9,343.7 1390.3,340.1C1392.7,334.2 1395.1,325.0 1397.5,325.0C1398.5,325.0 1399.6,328.5 1400.6,331.2C1401.9,334.4 1403.1,345.1 1404.4,345.1C1405.3,345.1 1406.2,344.6 1407.2,344.6C1407.9,344.6 1408.7,354.7 1409.4,354.7C1410.9,354.7 1412.3,333.0 1413.7,333.0C1415.2,333.0 1416.6,345.4 1418.0,345.4C1419.4,345.4 1420.8,329.4 1422.1,329.4C1423.4,329.4 1424.6,339.4 1425.9,341.9C1427.1,344.4 1428.4,347.2 1429.6,347.2C1431.2,347.2 1432.7,343.9 1434.3,343.7C1435.9,343.4 1437.4,343.5 1439.0,343.3C1440.3,343.1 1441.7,336.9 1443.1,336.9C1444.5,336.9 1446.0,353.5 1447.4,353.5C1448.5,353.5 1449.5,339.2 1450.6,339.2C1451.7,339.2 1452.8,349.0 1453.9,349.0C1455.2,349.0 1456.4,333.0 1457.7,333.0C1458.8,333.0 1459.9,351.7 1461.0,351.7C1462.1,351.7 1463.2,333.0 1464.2,333.0C1465.8,333.0 1467.3,334.8 1468.9,336.5C1470.1,338.0 1471.4,344.6 1472.6,344.6C1474.2,344.6 1475.8,337.4 1477.3,337.4C1478.6,337.4 1479.8,338.7 1481.1,340.1C1482.7,342.0 1484.4,354.0 1486.1,354.0C1487.5,354.0 1489.0,342.9 1490.4,340.1C1491.7,337.7 1492.9,334.8 1494.2,334.8C1495.1,334.8 1496.0,338.3 1497.0,338.3C1498.2,338.3 1499.5,329.1 1500.7,329.1C1501.9,329.1 1503.2,331.0 1504.4,333.0C1505.7,335.0 1506.9,346.3 1508.2,346.3C1509.7,346.3 1511.3,346.0 1512.9,345.4C1514.3,344.9 1515.7,336.5 1517.2,336.5C1518.5,336.5 1519.9,348.7 1521.3,348.7C1522.7,348.7 1524.1,328.0 1525.6,328.0C1527.3,328.0 1528.9,345.1 1530.6,345.1C1533.6,345.1 1536.6,330.8 1539.6,330.8C1541.0,330.8 1542.3,331.8 1543.7,333.0C1545.1,334.2 1546.5,342.5 1547.8,344.0C1549.5,345.8 1551.1,347.2 1552.7,347.2C1553.8,347.2 1554.8,343.3 1555.9,342.8C1557.4,342.0 1559.0,341.5 1560.5,341.5C1561.9,341.5 1563.3,342.0 1564.7,342.2" stroke="#00ff00" stroke-width="4.1"/>
</g>
<g stroke="#000" stroke-width="4.2" fill="none" stroke-linecap="butt">
<rect x="165.5" y="39.0" width="1400" height="1129.4"/>
<line x1="165.5" y1="1168" x2="165.5" y2="1190.5"/>
<line x1="273.2" y1="1168" x2="273.2" y2="1179.5"/>
<line x1="380.9" y1="1168" x2="380.9" y2="1190.5"/>
<line x1="488.6" y1="1168" x2="488.6" y2="1179.5"/>
<line x1="596.3" y1="1168" x2="596.3" y2="1190.5"/>
<line x1="704.0" y1="1168" x2="704.0" y2="1179.5"/>
<line x1="811.7" y1="1168" x2="811.7" y2="1190.5"/>
<line x1="919.3" y1="1168" x2="919.3" y2="1179.5"/>
<line x1="1027.0" y1="1168" x2="1027.0" y2="1190.5"/>
<line x1="1134.7" y1="1168" x2="1134.7" y2="1179.5"/>
<line x1="1242.4" y1="1168" x2="1242.4" y2="1190.5"/>
<line x1="1350.1" y1="1168" x2="1350.1" y2="1179.5"/>
<line x1="1457.8" y1="1168" x2="1457.8" y2="1190.5"/>
<line x1="1565.5" y1="1168" x2="1565.5" y2="1179.5"/>
</g>
<text class="lab" font-size="63.8" text-anchor="middle" transform="translate(381.3,1255.7) scale(1,1.017)">20</text>
<text class="lab" font-size="63.8" text-anchor="middle" transform="translate(596.7,1255.7) scale(1,1.017)">30</text>
<text class="lab" font-size="63.8" text-anchor="middle" transform="translate(812.1,1255.7) scale(1,1.017)">40</text>
<text class="lab" font-size="63.8" text-anchor="middle" transform="translate(1027.4,1255.7) scale(1,1.017)">50</text>
<text class="lab" font-size="63.8" text-anchor="middle" transform="translate(1242.8,1255.7) scale(1,1.017)">60</text>
<text class="lab" font-size="63.8" text-anchor="middle" transform="translate(1458.2,1255.7) scale(1,1.017)">70</text>
<clipPath id="one"><path d="M128,1200 H162 V1248.2 H155.8 V1262 H146.85 V1248.2 H128 Z"/></clipPath>
<g clip-path="url(#one)">
<text class="lab" font-size="63.8" text-anchor="start" transform="translate(132.1,1255.7) scale(1,1.017)">1</text>
</g>
<text class="lab" font-size="63.8" text-anchor="start" transform="translate(165.9,1255.7) scale(1,1.017)">0</text>
<text class="lab" font-size="69.4" text-anchor="middle" transform="translate(865.4,1373.8) scale(1,1.04)">2<tspan class="sym" font-weight="700" font-size="66.5">θ</tspan> (°)</text>
<text class="lab" font-size="69.4" text-anchor="middle" transform="translate(75.4,579.6) rotate(-90) scale(1,1.03)">Intensity (a.u.)</text>
<text class="lab" font-size="58.6" text-anchor="end" transform="translate(1558.6,338.15) scale(1,1.0245)">Ni/LaSi</text>
<text class="lab" font-size="58.6" text-anchor="end" transform="translate(1548.1,468.65) scale(1,1.0245)">LaSi</text>
<text class="lab" font-size="58.6" text-anchor="end" transform="translate(1553.1,569.6) scale(1,1.0245)">Ni/CeSi</text>
<text class="lab" font-size="58.6" text-anchor="end" transform="translate(1548.1,695.65) scale(1,1.0245)">CeSi</text>
<text class="lab" font-size="58.6" text-anchor="end" transform="translate(1548.1,794.65) scale(1,1.0245)">Ni/MgSi</text>
<text class="lab" font-size="58.6" text-anchor="end" transform="translate(1548.1,919.65) scale(1,1.0245)">MgSi</text>
<text class="lab" font-size="58.6" text-anchor="end" transform="translate(1548.1,1032.15) scale(1,1.0245)">Ni/Si</text>
<text class="lab" font-size="58.6" text-anchor="end" transform="translate(1556.5,1138.5) scale(1,1.0245)">SiO<tspan font-size="41.3" dy="15.3">2</tspan></text>
<text class="sym" font-size="57.6" text-anchor="middle" transform="translate(565.3,230.05) scale(0.985,1)">o</text>
<text class="sym" font-size="57.6" text-anchor="middle" transform="translate(664.4,213.75) scale(0.985,1)">o</text>
<text class="sym" font-size="57.6" text-anchor="middle" transform="translate(973.7,229.95) scale(0.985,1)">o</text>
<text class="sym" font-size="57.6" text-anchor="middle" transform="translate(1165.2,229.95) scale(0.985,1)">o</text>
<path d="M909.3,99.05 L922.85,116.4 L909.3,133.75 L895.75,116.4 Z" fill="#000"/>
<path d="M1066.4,154.60 L1079.95,171.95 L1066.4,189.30 L1052.85,171.95 Z" fill="#000"/>
<circle cx="423.6" cy="232.1" r="10.5" fill="#000"/>
<g stroke="#999999" stroke-width="1.05" stroke-dasharray="6.85 6.895" fill="none">
<line x1="420.9" y1="242.25" x2="420.45" y2="1170.4" stroke-dashoffset="0"/>
<line x1="563.0" y1="234.2" x2="562.45" y2="1170.4" stroke-dashoffset="5.75"/>
<line x1="664.95" y1="228.0" x2="663.95" y2="1170.4" stroke-dashoffset="5.75"/>
<path d="M910.05,154.75 L909.5,600 L909.5,1170.4" stroke-dashoffset="0"/>
<line x1="972.0" y1="248.3" x2="971.97" y2="1170.4" stroke-dashoffset="0"/>
<line x1="1066.05" y1="206.1" x2="1065.97" y2="1170.4" stroke-dashoffset="0"/>
<line x1="1163.5" y1="254.2" x2="1163.52" y2="1170.4" stroke-dashoffset="0"/>
</g>
</svg>
</body></html>
